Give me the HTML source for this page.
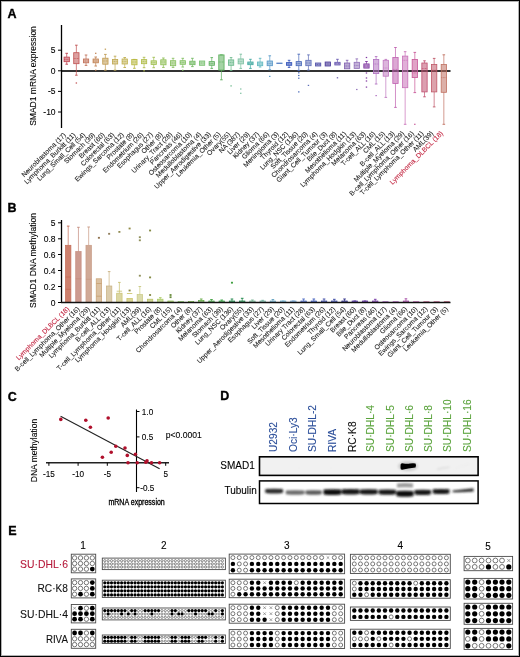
<!DOCTYPE html>
<html><head><meta charset="utf-8"><title>SMAD1 figure</title>
<style>
html,body{margin:0;padding:0;background:#fff;}
#fig{position:relative;width:520px;height:657px;overflow:hidden;background:#fff;}
svg{display:block;will-change:transform;filter:blur(0.3px);}
svg text{font-family:"Liberation Sans", sans-serif;}
#frame{position:absolute;left:0;top:0;width:520px;height:657px;box-sizing:border-box;border:1px solid #000;box-shadow:inset 0 0 0 1px rgba(0,0,0,0.3);pointer-events:none;}
</style></head>
<body>
<div id="fig">
<svg width="520" height="657" viewBox="0 0 520 657" font-family='"Liberation Sans", sans-serif'>
<line x1="61" y1="71.0" x2="450.5" y2="71.0" stroke="#333" stroke-width="1.9"/>
<g id="panelA">
<line x1="66.70" y1="53.3" x2="66.70" y2="57.1" stroke="#c0404c" stroke-width="0.7"/>
<line x1="65.40" y1="53.3" x2="68.00" y2="53.3" stroke="#c0404c" stroke-width="0.9"/>
<line x1="66.70" y1="61.7" x2="66.70" y2="64.2" stroke="#c0404c" stroke-width="0.7"/>
<line x1="65.40" y1="64.2" x2="68.00" y2="64.2" stroke="#c0404c" stroke-width="0.9"/>
<rect x="64.05" y="57.1" width="5.3" height="4.60" fill="#c0404c" fill-opacity="0.55" stroke="#c0404c" stroke-width="0.8"/>
<line x1="64.05" y1="59.4" x2="69.35" y2="59.4" stroke="#c0404c" stroke-width="0.7" stroke-dasharray="1,0.6"/>
<line x1="76.37" y1="45.2" x2="76.37" y2="52.7" stroke="#c05050" stroke-width="0.7"/>
<line x1="75.07" y1="45.2" x2="77.67" y2="45.2" stroke="#c05050" stroke-width="0.9"/>
<line x1="76.37" y1="63.7" x2="76.37" y2="75.2" stroke="#c05050" stroke-width="0.7"/>
<line x1="75.07" y1="75.2" x2="77.67" y2="75.2" stroke="#c05050" stroke-width="0.9"/>
<rect x="73.72" y="52.7" width="5.3" height="11.00" fill="#c05050" fill-opacity="0.55" stroke="#c05050" stroke-width="0.8"/>
<line x1="73.72" y1="58.5" x2="79.02" y2="58.5" stroke="#c05050" stroke-width="0.7" stroke-dasharray="1,0.6"/>
<rect x="75.67" y="82.4" width="1.4" height="1.2" fill="#c05050"/>
<line x1="86.04" y1="55.0" x2="86.04" y2="59.0" stroke="#c07058" stroke-width="0.7"/>
<line x1="84.74" y1="55.0" x2="87.34" y2="55.0" stroke="#c07058" stroke-width="0.9"/>
<line x1="86.04" y1="62.8" x2="86.04" y2="65.4" stroke="#c07058" stroke-width="0.7"/>
<line x1="84.74" y1="65.4" x2="87.34" y2="65.4" stroke="#c07058" stroke-width="0.9"/>
<rect x="83.39" y="59.0" width="5.3" height="3.80" fill="#c07058" fill-opacity="0.55" stroke="#c07058" stroke-width="0.8"/>
<line x1="83.39" y1="61.0" x2="88.69" y2="61.0" stroke="#c07058" stroke-width="0.7" stroke-dasharray="1,0.6"/>
<line x1="95.71" y1="57.0" x2="95.71" y2="59.0" stroke="#c08050" stroke-width="0.7"/>
<line x1="94.41" y1="57.0" x2="97.01" y2="57.0" stroke="#c08050" stroke-width="0.9"/>
<line x1="95.71" y1="62.8" x2="95.71" y2="66.0" stroke="#c08050" stroke-width="0.7"/>
<line x1="94.41" y1="66.0" x2="97.01" y2="66.0" stroke="#c08050" stroke-width="0.9"/>
<rect x="93.06" y="59.0" width="5.3" height="3.80" fill="#c08050" fill-opacity="0.55" stroke="#c08050" stroke-width="0.8"/>
<line x1="93.06" y1="61.0" x2="98.36" y2="61.0" stroke="#c08050" stroke-width="0.7" stroke-dasharray="1,0.6"/>
<rect x="95.01" y="52.699999999999996" width="1.4" height="1.2" fill="#c08050"/>
<rect x="95.01" y="69.60000000000001" width="1.4" height="1.2" fill="#c08050"/>
<line x1="105.38" y1="54.4" x2="105.38" y2="58.2" stroke="#c09a50" stroke-width="0.7"/>
<line x1="104.08" y1="54.4" x2="106.68" y2="54.4" stroke="#c09a50" stroke-width="0.9"/>
<line x1="105.38" y1="64.2" x2="105.38" y2="70.2" stroke="#c09a50" stroke-width="0.7"/>
<line x1="104.08" y1="70.2" x2="106.68" y2="70.2" stroke="#c09a50" stroke-width="0.9"/>
<rect x="102.73" y="58.2" width="5.3" height="6.00" fill="#c09a50" fill-opacity="0.55" stroke="#c09a50" stroke-width="0.8"/>
<line x1="102.73" y1="61.0" x2="108.03" y2="61.0" stroke="#c09a50" stroke-width="0.7" stroke-dasharray="1,0.6"/>
<rect x="104.68" y="48.6" width="1.4" height="1.2" fill="#c09a50"/>
<line x1="115.05" y1="56.2" x2="115.05" y2="59.4" stroke="#c0a850" stroke-width="0.7"/>
<line x1="113.75" y1="56.2" x2="116.35" y2="56.2" stroke="#c0a850" stroke-width="0.9"/>
<line x1="115.05" y1="64.0" x2="115.05" y2="70.2" stroke="#c0a850" stroke-width="0.7"/>
<line x1="113.75" y1="70.2" x2="116.35" y2="70.2" stroke="#c0a850" stroke-width="0.9"/>
<rect x="112.40" y="59.4" width="5.3" height="4.60" fill="#c0a850" fill-opacity="0.55" stroke="#c0a850" stroke-width="0.8"/>
<line x1="112.40" y1="61.5" x2="117.70" y2="61.5" stroke="#c0a850" stroke-width="0.7" stroke-dasharray="1,0.6"/>
<line x1="124.72" y1="57.5" x2="124.72" y2="59.0" stroke="#c0b050" stroke-width="0.7"/>
<line x1="123.42" y1="57.5" x2="126.02" y2="57.5" stroke="#c0b050" stroke-width="0.9"/>
<line x1="124.72" y1="64.0" x2="124.72" y2="67.5" stroke="#c0b050" stroke-width="0.7"/>
<line x1="123.42" y1="67.5" x2="126.02" y2="67.5" stroke="#c0b050" stroke-width="0.9"/>
<rect x="122.07" y="59.0" width="5.3" height="5.00" fill="#c0b050" fill-opacity="0.55" stroke="#c0b050" stroke-width="0.8"/>
<line x1="122.07" y1="61.5" x2="127.37" y2="61.5" stroke="#c0b050" stroke-width="0.7" stroke-dasharray="1,0.6"/>
<line x1="134.39" y1="59.4" x2="134.39" y2="59.4" stroke="#b8b840" stroke-width="0.7"/>
<line x1="133.09" y1="59.4" x2="135.69" y2="59.4" stroke="#b8b840" stroke-width="0.9"/>
<line x1="134.39" y1="64.8" x2="134.39" y2="68.3" stroke="#b8b840" stroke-width="0.7"/>
<line x1="133.09" y1="68.3" x2="135.69" y2="68.3" stroke="#b8b840" stroke-width="0.9"/>
<rect x="131.74" y="59.4" width="5.3" height="5.40" fill="#b8b840" fill-opacity="0.55" stroke="#b8b840" stroke-width="0.8"/>
<line x1="131.74" y1="62.0" x2="137.04" y2="62.0" stroke="#b8b840" stroke-width="0.7" stroke-dasharray="1,0.6"/>
<line x1="144.06" y1="57.3" x2="144.06" y2="59.6" stroke="#b0bc48" stroke-width="0.7"/>
<line x1="142.76" y1="57.3" x2="145.36" y2="57.3" stroke="#b0bc48" stroke-width="0.9"/>
<line x1="144.06" y1="63.7" x2="144.06" y2="67.7" stroke="#b0bc48" stroke-width="0.7"/>
<line x1="142.76" y1="67.7" x2="145.36" y2="67.7" stroke="#b0bc48" stroke-width="0.9"/>
<rect x="141.41" y="59.6" width="5.3" height="4.10" fill="#b0bc48" fill-opacity="0.55" stroke="#b0bc48" stroke-width="0.8"/>
<line x1="141.41" y1="61.5" x2="146.71" y2="61.5" stroke="#b0bc48" stroke-width="0.7" stroke-dasharray="1,0.6"/>
<rect x="143.36" y="70.2" width="1.4" height="1.2" fill="#b0bc48"/>
<line x1="153.73" y1="57.3" x2="153.73" y2="60.8" stroke="#a0c050" stroke-width="0.7"/>
<line x1="152.43" y1="57.3" x2="155.03" y2="57.3" stroke="#a0c050" stroke-width="0.9"/>
<line x1="153.73" y1="64.5" x2="153.73" y2="67.7" stroke="#a0c050" stroke-width="0.7"/>
<line x1="152.43" y1="67.7" x2="155.03" y2="67.7" stroke="#a0c050" stroke-width="0.9"/>
<rect x="151.08" y="60.8" width="5.3" height="3.70" fill="#a0c050" fill-opacity="0.55" stroke="#a0c050" stroke-width="0.8"/>
<line x1="151.08" y1="62.5" x2="156.38" y2="62.5" stroke="#a0c050" stroke-width="0.7" stroke-dasharray="1,0.6"/>
<line x1="163.40" y1="58.0" x2="163.40" y2="59.8" stroke="#90c058" stroke-width="0.7"/>
<line x1="162.10" y1="58.0" x2="164.70" y2="58.0" stroke="#90c058" stroke-width="0.9"/>
<line x1="163.40" y1="64.8" x2="163.40" y2="67.4" stroke="#90c058" stroke-width="0.7"/>
<line x1="162.10" y1="67.4" x2="164.70" y2="67.4" stroke="#90c058" stroke-width="0.9"/>
<rect x="160.75" y="59.8" width="5.3" height="5.00" fill="#90c058" fill-opacity="0.55" stroke="#90c058" stroke-width="0.8"/>
<line x1="160.75" y1="62.0" x2="166.05" y2="62.0" stroke="#90c058" stroke-width="0.7" stroke-dasharray="1,0.6"/>
<line x1="173.07" y1="58.3" x2="173.07" y2="60.7" stroke="#88c060" stroke-width="0.7"/>
<line x1="171.77" y1="58.3" x2="174.37" y2="58.3" stroke="#88c060" stroke-width="0.9"/>
<line x1="173.07" y1="65.7" x2="173.07" y2="67.4" stroke="#88c060" stroke-width="0.7"/>
<line x1="171.77" y1="67.4" x2="174.37" y2="67.4" stroke="#88c060" stroke-width="0.9"/>
<rect x="170.42" y="60.7" width="5.3" height="5.00" fill="#88c060" fill-opacity="0.55" stroke="#88c060" stroke-width="0.8"/>
<line x1="170.42" y1="63.0" x2="175.72" y2="63.0" stroke="#88c060" stroke-width="0.7" stroke-dasharray="1,0.6"/>
<line x1="182.74" y1="58.3" x2="182.74" y2="60.7" stroke="#80c060" stroke-width="0.7"/>
<line x1="181.44" y1="58.3" x2="184.04" y2="58.3" stroke="#80c060" stroke-width="0.9"/>
<line x1="182.74" y1="64.3" x2="182.74" y2="67.0" stroke="#80c060" stroke-width="0.7"/>
<line x1="181.44" y1="67.0" x2="184.04" y2="67.0" stroke="#80c060" stroke-width="0.9"/>
<rect x="180.09" y="60.7" width="5.3" height="3.60" fill="#80c060" fill-opacity="0.55" stroke="#80c060" stroke-width="0.8"/>
<line x1="180.09" y1="62.5" x2="185.39" y2="62.5" stroke="#80c060" stroke-width="0.7" stroke-dasharray="1,0.6"/>
<rect x="182.04" y="69.60000000000001" width="1.4" height="1.2" fill="#80c060"/>
<line x1="192.41" y1="58.3" x2="192.41" y2="61.2" stroke="#70b860" stroke-width="0.7"/>
<line x1="191.11" y1="58.3" x2="193.71" y2="58.3" stroke="#70b860" stroke-width="0.9"/>
<line x1="192.41" y1="64.7" x2="192.41" y2="66.6" stroke="#70b860" stroke-width="0.7"/>
<line x1="191.11" y1="66.6" x2="193.71" y2="66.6" stroke="#70b860" stroke-width="0.9"/>
<rect x="189.76" y="61.2" width="5.3" height="3.50" fill="#70b860" fill-opacity="0.55" stroke="#70b860" stroke-width="0.8"/>
<line x1="189.76" y1="63.0" x2="195.06" y2="63.0" stroke="#70b860" stroke-width="0.7" stroke-dasharray="1,0.6"/>
<rect x="199.43" y="61.0" width="5.3" height="4.30" fill="#78c070" fill-opacity="0.55" stroke="#78c070" stroke-width="0.8"/>
<line x1="199.43" y1="63.0" x2="204.73" y2="63.0" stroke="#78c070" stroke-width="0.7" stroke-dasharray="1,0.6"/>
<line x1="211.75" y1="57.6" x2="211.75" y2="61.6" stroke="#60b060" stroke-width="0.7"/>
<line x1="210.45" y1="57.6" x2="213.05" y2="57.6" stroke="#60b060" stroke-width="0.9"/>
<line x1="211.75" y1="65.3" x2="211.75" y2="68.4" stroke="#60b060" stroke-width="0.7"/>
<line x1="210.45" y1="68.4" x2="213.05" y2="68.4" stroke="#60b060" stroke-width="0.9"/>
<rect x="209.10" y="61.6" width="5.3" height="3.70" fill="#60b060" fill-opacity="0.55" stroke="#60b060" stroke-width="0.8"/>
<line x1="209.10" y1="63.5" x2="214.40" y2="63.5" stroke="#60b060" stroke-width="0.7" stroke-dasharray="1,0.6"/>
<line x1="221.42" y1="54.9" x2="221.42" y2="54.9" stroke="#5aae5a" stroke-width="0.7"/>
<line x1="220.12" y1="54.9" x2="222.72" y2="54.9" stroke="#5aae5a" stroke-width="0.9"/>
<line x1="221.42" y1="70.1" x2="221.42" y2="79.8" stroke="#5aae5a" stroke-width="0.7"/>
<line x1="220.12" y1="79.8" x2="222.72" y2="79.8" stroke="#5aae5a" stroke-width="0.9"/>
<rect x="218.77" y="54.9" width="5.3" height="15.20" fill="#5aae5a" fill-opacity="0.55" stroke="#5aae5a" stroke-width="0.8"/>
<line x1="218.77" y1="62.0" x2="224.07" y2="62.0" stroke="#5aae5a" stroke-width="0.7" stroke-dasharray="1,0.6"/>
<line x1="231.09" y1="57.6" x2="231.09" y2="59.9" stroke="#6ab88a" stroke-width="0.7"/>
<line x1="229.79" y1="57.6" x2="232.39" y2="57.6" stroke="#6ab88a" stroke-width="0.9"/>
<line x1="231.09" y1="65.3" x2="231.09" y2="70.4" stroke="#6ab88a" stroke-width="0.7"/>
<line x1="229.79" y1="70.4" x2="232.39" y2="70.4" stroke="#6ab88a" stroke-width="0.9"/>
<rect x="228.44" y="59.9" width="5.3" height="5.40" fill="#6ab88a" fill-opacity="0.55" stroke="#6ab88a" stroke-width="0.8"/>
<line x1="228.44" y1="62.5" x2="233.74" y2="62.5" stroke="#6ab88a" stroke-width="0.7" stroke-dasharray="1,0.6"/>
<rect x="230.39" y="85.30000000000001" width="1.4" height="1.2" fill="#6ab88a"/>
<line x1="240.76" y1="54.2" x2="240.76" y2="58.9" stroke="#7cc0a0" stroke-width="0.7"/>
<line x1="239.46" y1="54.2" x2="242.06" y2="54.2" stroke="#7cc0a0" stroke-width="0.9"/>
<line x1="240.76" y1="63.9" x2="240.76" y2="68.4" stroke="#7cc0a0" stroke-width="0.7"/>
<line x1="239.46" y1="68.4" x2="242.06" y2="68.4" stroke="#7cc0a0" stroke-width="0.9"/>
<rect x="238.11" y="58.9" width="5.3" height="5.00" fill="#7cc0a0" fill-opacity="0.55" stroke="#7cc0a0" stroke-width="0.8"/>
<line x1="238.11" y1="61.5" x2="243.41" y2="61.5" stroke="#7cc0a0" stroke-width="0.7" stroke-dasharray="1,0.6"/>
<rect x="240.06" y="88.4" width="1.4" height="1.2" fill="#7cc0a0"/>
<rect x="240.06" y="92.7" width="1.4" height="1.2" fill="#7cc0a0"/>
<line x1="250.43" y1="59.3" x2="250.43" y2="62.0" stroke="#40a8a0" stroke-width="0.7"/>
<line x1="249.13" y1="59.3" x2="251.73" y2="59.3" stroke="#40a8a0" stroke-width="0.9"/>
<line x1="250.43" y1="64.7" x2="250.43" y2="68.4" stroke="#40a8a0" stroke-width="0.7"/>
<line x1="249.13" y1="68.4" x2="251.73" y2="68.4" stroke="#40a8a0" stroke-width="0.9"/>
<rect x="247.78" y="62.0" width="5.3" height="2.70" fill="#40a8a0" fill-opacity="0.55" stroke="#40a8a0" stroke-width="0.8"/>
<line x1="247.78" y1="63.4" x2="253.08" y2="63.4" stroke="#40a8a0" stroke-width="0.7" stroke-dasharray="1,0.6"/>
<line x1="260.10" y1="58.3" x2="260.10" y2="62.0" stroke="#60b8c0" stroke-width="0.7"/>
<line x1="258.80" y1="58.3" x2="261.40" y2="58.3" stroke="#60b8c0" stroke-width="0.9"/>
<line x1="260.10" y1="65.7" x2="260.10" y2="67.0" stroke="#60b8c0" stroke-width="0.7"/>
<line x1="258.80" y1="67.0" x2="261.40" y2="67.0" stroke="#60b8c0" stroke-width="0.9"/>
<rect x="257.45" y="62.0" width="5.3" height="3.70" fill="#60b8c0" fill-opacity="0.55" stroke="#60b8c0" stroke-width="0.8"/>
<line x1="257.45" y1="64.0" x2="262.75" y2="64.0" stroke="#60b8c0" stroke-width="0.7" stroke-dasharray="1,0.6"/>
<line x1="269.77" y1="55.8" x2="269.77" y2="61.0" stroke="#5898c8" stroke-width="0.7"/>
<line x1="268.47" y1="55.8" x2="271.07" y2="55.8" stroke="#5898c8" stroke-width="0.9"/>
<line x1="269.77" y1="65.7" x2="269.77" y2="69.7" stroke="#5898c8" stroke-width="0.7"/>
<line x1="268.47" y1="69.7" x2="271.07" y2="69.7" stroke="#5898c8" stroke-width="0.9"/>
<rect x="267.12" y="61.0" width="5.3" height="4.70" fill="#5898c8" fill-opacity="0.55" stroke="#5898c8" stroke-width="0.8"/>
<line x1="267.12" y1="63.5" x2="272.42" y2="63.5" stroke="#5898c8" stroke-width="0.7" stroke-dasharray="1,0.6"/>
<rect x="269.07" y="75.80000000000001" width="1.4" height="1.2" fill="#5898c8"/>
<rect x="276.79" y="63.0" width="5.3" height="0.60" fill="#6088c8" fill-opacity="0.55" stroke="#6088c8" stroke-width="0.8"/>
<line x1="289.11" y1="60.3" x2="289.11" y2="62.6" stroke="#3050b8" stroke-width="0.7"/>
<line x1="287.81" y1="60.3" x2="290.41" y2="60.3" stroke="#3050b8" stroke-width="0.9"/>
<line x1="289.11" y1="65.3" x2="289.11" y2="67.4" stroke="#3050b8" stroke-width="0.7"/>
<line x1="287.81" y1="67.4" x2="290.41" y2="67.4" stroke="#3050b8" stroke-width="0.9"/>
<rect x="286.46" y="62.6" width="5.3" height="2.70" fill="#3050b8" fill-opacity="0.55" stroke="#3050b8" stroke-width="0.8"/>
<line x1="286.46" y1="64.0" x2="291.76" y2="64.0" stroke="#3050b8" stroke-width="0.7" stroke-dasharray="1,0.6"/>
<line x1="298.78" y1="54.2" x2="298.78" y2="61.6" stroke="#4868b8" stroke-width="0.7"/>
<line x1="297.48" y1="54.2" x2="300.08" y2="54.2" stroke="#4868b8" stroke-width="0.9"/>
<line x1="298.78" y1="65.7" x2="298.78" y2="70.4" stroke="#4868b8" stroke-width="0.7"/>
<line x1="297.48" y1="70.4" x2="300.08" y2="70.4" stroke="#4868b8" stroke-width="0.9"/>
<rect x="296.13" y="61.6" width="5.3" height="4.10" fill="#4868b8" fill-opacity="0.55" stroke="#4868b8" stroke-width="0.8"/>
<line x1="296.13" y1="63.5" x2="301.43" y2="63.5" stroke="#4868b8" stroke-width="0.7" stroke-dasharray="1,0.6"/>
<rect x="298.08" y="72.2" width="1.4" height="1.2" fill="#4868b8"/>
<rect x="298.08" y="74.9" width="1.4" height="1.2" fill="#4868b8"/>
<rect x="298.08" y="77.60000000000001" width="1.4" height="1.2" fill="#4868b8"/>
<rect x="298.08" y="91.30000000000001" width="1.4" height="1.2" fill="#4868b8"/>
<line x1="308.45" y1="54.9" x2="308.45" y2="60.3" stroke="#6070b8" stroke-width="0.7"/>
<line x1="307.15" y1="54.9" x2="309.75" y2="54.9" stroke="#6070b8" stroke-width="0.9"/>
<line x1="308.45" y1="65.7" x2="308.45" y2="70.1" stroke="#6070b8" stroke-width="0.7"/>
<line x1="307.15" y1="70.1" x2="309.75" y2="70.1" stroke="#6070b8" stroke-width="0.9"/>
<rect x="305.80" y="60.3" width="5.3" height="5.40" fill="#6070b8" fill-opacity="0.55" stroke="#6070b8" stroke-width="0.8"/>
<line x1="305.80" y1="63.0" x2="311.10" y2="63.0" stroke="#6070b8" stroke-width="0.7" stroke-dasharray="1,0.6"/>
<rect x="307.75" y="84.80000000000001" width="1.4" height="1.2" fill="#6070b8"/>
<rect x="315.47" y="63.0" width="5.3" height="3.00" fill="#5050a8" fill-opacity="0.55" stroke="#5050a8" stroke-width="0.8"/>
<line x1="315.47" y1="64.5" x2="320.77" y2="64.5" stroke="#5050a8" stroke-width="0.7" stroke-dasharray="1,0.6"/>
<rect x="325.14" y="62.0" width="5.3" height="4.00" fill="#483898" fill-opacity="0.55" stroke="#483898" stroke-width="0.8"/>
<line x1="325.14" y1="64.0" x2="330.44" y2="64.0" stroke="#483898" stroke-width="0.7" stroke-dasharray="1,0.6"/>
<line x1="337.46" y1="59.3" x2="337.46" y2="62.3" stroke="#6858b0" stroke-width="0.7"/>
<line x1="336.16" y1="59.3" x2="338.76" y2="59.3" stroke="#6858b0" stroke-width="0.9"/>
<rect x="334.81" y="62.3" width="5.3" height="2.70" fill="#6858b0" fill-opacity="0.55" stroke="#6858b0" stroke-width="0.8"/>
<line x1="334.81" y1="63.6" x2="340.11" y2="63.6" stroke="#6858b0" stroke-width="0.7" stroke-dasharray="1,0.6"/>
<rect x="336.76" y="77.2" width="1.4" height="1.2" fill="#6858b0"/>
<line x1="347.13" y1="60.3" x2="347.13" y2="63.0" stroke="#8060b0" stroke-width="0.7"/>
<line x1="345.83" y1="60.3" x2="348.43" y2="60.3" stroke="#8060b0" stroke-width="0.9"/>
<rect x="344.48" y="63.0" width="5.3" height="5.80" fill="#8060b0" fill-opacity="0.55" stroke="#8060b0" stroke-width="0.8"/>
<line x1="344.48" y1="66.0" x2="349.78" y2="66.0" stroke="#8060b0" stroke-width="0.7" stroke-dasharray="1,0.6"/>
<line x1="356.80" y1="58.9" x2="356.80" y2="62.3" stroke="#9070b8" stroke-width="0.7"/>
<line x1="355.50" y1="58.9" x2="358.10" y2="58.9" stroke="#9070b8" stroke-width="0.9"/>
<rect x="354.15" y="62.3" width="5.3" height="6.10" fill="#9070b8" fill-opacity="0.55" stroke="#9070b8" stroke-width="0.8"/>
<line x1="354.15" y1="65.5" x2="359.45" y2="65.5" stroke="#9070b8" stroke-width="0.7" stroke-dasharray="1,0.6"/>
<rect x="356.10" y="88.9" width="1.4" height="1.2" fill="#9070b8"/>
<line x1="366.47" y1="61.5" x2="366.47" y2="63.9" stroke="#8038a0" stroke-width="0.7"/>
<line x1="365.17" y1="61.5" x2="367.77" y2="61.5" stroke="#8038a0" stroke-width="0.9"/>
<rect x="363.82" y="63.9" width="5.3" height="4.20" fill="#8038a0" fill-opacity="0.55" stroke="#8038a0" stroke-width="0.8"/>
<line x1="363.82" y1="66.0" x2="369.12" y2="66.0" stroke="#8038a0" stroke-width="0.7" stroke-dasharray="1,0.6"/>
<rect x="365.77" y="56.9" width="1.4" height="1.2" fill="#8038a0"/>
<rect x="365.77" y="72.4" width="1.4" height="1.2" fill="#8038a0"/>
<rect x="365.77" y="77.4" width="1.4" height="1.2" fill="#8038a0"/>
<rect x="365.77" y="80.4" width="1.4" height="1.2" fill="#8038a0"/>
<rect x="365.77" y="86.5" width="1.4" height="1.2" fill="#8038a0"/>
<line x1="376.14" y1="56.6" x2="376.14" y2="59.4" stroke="#b070c0" stroke-width="0.7"/>
<line x1="374.84" y1="56.6" x2="377.44" y2="56.6" stroke="#b070c0" stroke-width="0.9"/>
<line x1="376.14" y1="73.6" x2="376.14" y2="84.0" stroke="#b070c0" stroke-width="0.7"/>
<line x1="374.84" y1="84.0" x2="377.44" y2="84.0" stroke="#b070c0" stroke-width="0.9"/>
<rect x="373.49" y="59.4" width="5.3" height="14.20" fill="#b070c0" fill-opacity="0.55" stroke="#b070c0" stroke-width="0.8"/>
<line x1="373.49" y1="64.0" x2="378.79" y2="64.0" stroke="#b070c0" stroke-width="0.7" stroke-dasharray="1,0.6"/>
<rect x="375.44" y="95.0" width="1.4" height="1.2" fill="#b070c0"/>
<line x1="385.81" y1="59.4" x2="385.81" y2="60.3" stroke="#c078c0" stroke-width="0.7"/>
<line x1="384.51" y1="59.4" x2="387.11" y2="59.4" stroke="#c078c0" stroke-width="0.9"/>
<line x1="385.81" y1="76.2" x2="385.81" y2="97.4" stroke="#c078c0" stroke-width="0.7"/>
<line x1="384.51" y1="97.4" x2="387.11" y2="97.4" stroke="#c078c0" stroke-width="0.9"/>
<rect x="383.16" y="60.3" width="5.3" height="15.90" fill="#c078c0" fill-opacity="0.55" stroke="#c078c0" stroke-width="0.8"/>
<line x1="383.16" y1="68.0" x2="388.46" y2="68.0" stroke="#c078c0" stroke-width="0.7" stroke-dasharray="1,0.6"/>
<line x1="395.48" y1="47.5" x2="395.48" y2="57.5" stroke="#c060b0" stroke-width="0.7"/>
<line x1="394.18" y1="47.5" x2="396.78" y2="47.5" stroke="#c060b0" stroke-width="0.9"/>
<line x1="395.48" y1="83.5" x2="395.48" y2="107.4" stroke="#c060b0" stroke-width="0.7"/>
<line x1="394.18" y1="107.4" x2="396.78" y2="107.4" stroke="#c060b0" stroke-width="0.9"/>
<rect x="392.83" y="57.5" width="5.3" height="26.00" fill="#c060b0" fill-opacity="0.55" stroke="#c060b0" stroke-width="0.8"/>
<line x1="392.83" y1="69.4" x2="398.13" y2="69.4" stroke="#c060b0" stroke-width="0.7" stroke-dasharray="1,0.6"/>
<line x1="405.15" y1="51.7" x2="405.15" y2="56.1" stroke="#c870b8" stroke-width="0.7"/>
<line x1="403.85" y1="51.7" x2="406.45" y2="51.7" stroke="#c870b8" stroke-width="0.9"/>
<line x1="405.15" y1="87.7" x2="405.15" y2="124.3" stroke="#c870b8" stroke-width="0.7"/>
<line x1="403.85" y1="124.3" x2="406.45" y2="124.3" stroke="#c870b8" stroke-width="0.9"/>
<rect x="402.50" y="56.1" width="5.3" height="31.60" fill="#c870b8" fill-opacity="0.55" stroke="#c870b8" stroke-width="0.8"/>
<line x1="402.50" y1="60.3" x2="407.80" y2="60.3" stroke="#c870b8" stroke-width="0.7" stroke-dasharray="1,0.6"/>
<line x1="414.82" y1="52.4" x2="414.82" y2="59.4" stroke="#c85898" stroke-width="0.7"/>
<line x1="413.52" y1="52.4" x2="416.12" y2="52.4" stroke="#c85898" stroke-width="0.9"/>
<line x1="414.82" y1="77.6" x2="414.82" y2="92.6" stroke="#c85898" stroke-width="0.7"/>
<line x1="413.52" y1="92.6" x2="416.12" y2="92.6" stroke="#c85898" stroke-width="0.9"/>
<rect x="412.17" y="59.4" width="5.3" height="18.20" fill="#c85898" fill-opacity="0.55" stroke="#c85898" stroke-width="0.8"/>
<line x1="412.17" y1="73.0" x2="417.47" y2="73.0" stroke="#c85898" stroke-width="0.7" stroke-dasharray="1,0.6"/>
<rect x="414.12" y="123.7" width="1.4" height="1.2" fill="#c85898"/>
<line x1="424.49" y1="60.8" x2="424.49" y2="63.0" stroke="#c05070" stroke-width="0.7"/>
<line x1="423.19" y1="60.8" x2="425.79" y2="60.8" stroke="#c05070" stroke-width="0.9"/>
<line x1="424.49" y1="91.9" x2="424.49" y2="96.8" stroke="#c05070" stroke-width="0.7"/>
<line x1="423.19" y1="96.8" x2="425.79" y2="96.8" stroke="#c05070" stroke-width="0.9"/>
<rect x="421.84" y="63.0" width="5.3" height="28.90" fill="#c05070" fill-opacity="0.55" stroke="#c05070" stroke-width="0.8"/>
<line x1="421.84" y1="68.5" x2="427.14" y2="68.5" stroke="#c05070" stroke-width="0.7" stroke-dasharray="1,0.6"/>
<line x1="434.16" y1="58.4" x2="434.16" y2="64.5" stroke="#c05868" stroke-width="0.7"/>
<line x1="432.86" y1="58.4" x2="435.46" y2="58.4" stroke="#c05868" stroke-width="0.9"/>
<line x1="434.16" y1="91.9" x2="434.16" y2="106.9" stroke="#c05868" stroke-width="0.7"/>
<line x1="432.86" y1="106.9" x2="435.46" y2="106.9" stroke="#c05868" stroke-width="0.9"/>
<rect x="431.51" y="64.5" width="5.3" height="27.40" fill="#c05868" fill-opacity="0.55" stroke="#c05868" stroke-width="0.8"/>
<line x1="431.51" y1="70.3" x2="436.81" y2="70.3" stroke="#c05868" stroke-width="0.7" stroke-dasharray="1,0.6"/>
<line x1="443.83" y1="54.8" x2="443.83" y2="64.5" stroke="#c07060" stroke-width="0.7"/>
<line x1="442.53" y1="54.8" x2="445.13" y2="54.8" stroke="#c07060" stroke-width="0.9"/>
<line x1="443.83" y1="92.3" x2="443.83" y2="124.3" stroke="#c07060" stroke-width="0.7"/>
<line x1="442.53" y1="124.3" x2="445.13" y2="124.3" stroke="#c07060" stroke-width="0.9"/>
<rect x="441.18" y="64.5" width="5.3" height="27.80" fill="#c07060" fill-opacity="0.55" stroke="#c07060" stroke-width="0.8"/>
<line x1="441.18" y1="77.6" x2="446.48" y2="77.6" stroke="#c07060" stroke-width="0.7" stroke-dasharray="1,0.6"/>
</g>
<line x1="61.5" y1="25" x2="61.5" y2="128" stroke="#000" stroke-width="1.3"/>
<line x1="58" y1="50.2" x2="61.5" y2="50.2" stroke="#000" stroke-width="1"/>
<text stroke="#000" stroke-width="0.1" x="55.6" y="53.2" font-size="8.5" text-anchor="end">5</text>
<line x1="58" y1="70.8" x2="61.5" y2="70.8" stroke="#000" stroke-width="1"/>
<text stroke="#000" stroke-width="0.1" x="55.6" y="73.8" font-size="8.5" text-anchor="end">0</text>
<line x1="58" y1="91.4" x2="61.5" y2="91.4" stroke="#000" stroke-width="1"/>
<text stroke="#000" stroke-width="0.1" x="55.6" y="94.4" font-size="8.5" text-anchor="end">-5</text>
<line x1="58" y1="112" x2="61.5" y2="112" stroke="#000" stroke-width="1"/>
<text stroke="#000" stroke-width="0.1" x="55.6" y="115.0" font-size="8.5" text-anchor="end">-10</text>
<text stroke="#000" stroke-width="0.1" transform="translate(35.8,76) rotate(-90)" font-size="8.5" text-anchor="middle">SMAD1 mRNA expression</text>
<text stroke="#1a1a1a" stroke-width="0.08" transform="translate(66.40,135.40) rotate(-45)" font-size="6.75" text-anchor="end" fill="#1a1a1a">Neuroblastoma (17)</text>
<text stroke="#1a1a1a" stroke-width="0.08" transform="translate(76.07,135.36) rotate(-45)" font-size="6.75" text-anchor="end" fill="#1a1a1a">Lymphoma_Burkitt (11)</text>
<text stroke="#1a1a1a" stroke-width="0.08" transform="translate(85.74,135.32) rotate(-45)" font-size="6.75" text-anchor="end" fill="#1a1a1a">Lung_Small_Cell (54)</text>
<text stroke="#1a1a1a" stroke-width="0.08" transform="translate(95.41,135.28) rotate(-45)" font-size="6.75" text-anchor="end" fill="#1a1a1a">Stomach (39)</text>
<text stroke="#1a1a1a" stroke-width="0.08" transform="translate(105.08,135.24) rotate(-45)" font-size="6.75" text-anchor="end" fill="#1a1a1a">Breast (60)</text>
<text stroke="#1a1a1a" stroke-width="0.08" transform="translate(114.75,135.19) rotate(-45)" font-size="6.75" text-anchor="end" fill="#1a1a1a">Colorectal (63)</text>
<text stroke="#1a1a1a" stroke-width="0.08" transform="translate(124.42,135.15) rotate(-45)" font-size="6.75" text-anchor="end" fill="#1a1a1a">Ewings_Sarcoma (12)</text>
<text stroke="#1a1a1a" stroke-width="0.08" transform="translate(134.09,135.11) rotate(-45)" font-size="6.75" text-anchor="end" fill="#1a1a1a">Prostate (8)</text>
<text stroke="#1a1a1a" stroke-width="0.08" transform="translate(143.76,135.07) rotate(-45)" font-size="6.75" text-anchor="end" fill="#1a1a1a">Endometrium (26)</text>
<text stroke="#1a1a1a" stroke-width="0.08" transform="translate(153.43,135.03) rotate(-45)" font-size="6.75" text-anchor="end" fill="#1a1a1a">Esophagus (27)</text>
<text stroke="#1a1a1a" stroke-width="0.08" transform="translate(163.10,134.99) rotate(-45)" font-size="6.75" text-anchor="end" fill="#1a1a1a">Other (8)</text>
<text stroke="#1a1a1a" stroke-width="0.08" transform="translate(172.77,134.95) rotate(-45)" font-size="6.75" text-anchor="end" fill="#1a1a1a">Urinary_Tract (28)</text>
<text stroke="#1a1a1a" stroke-width="0.08" transform="translate(182.44,134.91) rotate(-45)" font-size="6.75" text-anchor="end" fill="#1a1a1a">Pancreas (46)</text>
<text stroke="#1a1a1a" stroke-width="0.08" transform="translate(192.11,134.87) rotate(-45)" font-size="6.75" text-anchor="end" fill="#1a1a1a">Osteosarcoma (10)</text>
<text stroke="#1a1a1a" stroke-width="0.08" transform="translate(201.78,134.83) rotate(-45)" font-size="6.75" text-anchor="end" fill="#1a1a1a">Medulloblastoma (4)</text>
<text stroke="#1a1a1a" stroke-width="0.08" transform="translate(211.45,134.78) rotate(-45)" font-size="6.75" text-anchor="end" fill="#1a1a1a">Upper_Aerodigestive (33)</text>
<text stroke="#1a1a1a" stroke-width="0.08" transform="translate(221.12,134.74) rotate(-45)" font-size="6.75" text-anchor="end" fill="#1a1a1a">Leukemia_Other (5)</text>
<text stroke="#1a1a1a" stroke-width="0.08" transform="translate(230.79,134.70) rotate(-45)" font-size="6.75" text-anchor="end" fill="#1a1a1a">Ovary(55)</text>
<text stroke="#1a1a1a" stroke-width="0.08" transform="translate(240.46,134.66) rotate(-45)" font-size="6.75" text-anchor="end" fill="#1a1a1a">NA (387)</text>
<text stroke="#1a1a1a" stroke-width="0.08" transform="translate(250.13,134.62) rotate(-45)" font-size="6.75" text-anchor="end" fill="#1a1a1a">Liver (29)</text>
<text stroke="#1a1a1a" stroke-width="0.08" transform="translate(259.80,134.58) rotate(-45)" font-size="6.75" text-anchor="end" fill="#1a1a1a">Kidney (37)</text>
<text stroke="#1a1a1a" stroke-width="0.08" transform="translate(269.47,134.54) rotate(-45)" font-size="6.75" text-anchor="end" fill="#1a1a1a">Glioma (66)</text>
<text stroke="#1a1a1a" stroke-width="0.08" transform="translate(279.14,134.50) rotate(-45)" font-size="6.75" text-anchor="end" fill="#1a1a1a">Meningioma (3)</text>
<text stroke="#1a1a1a" stroke-width="0.08" transform="translate(288.81,134.46) rotate(-45)" font-size="6.75" text-anchor="end" fill="#1a1a1a">Thyroid (12)</text>
<text stroke="#1a1a1a" stroke-width="0.08" transform="translate(298.48,134.42) rotate(-45)" font-size="6.75" text-anchor="end" fill="#1a1a1a">Lung_NSC (136)</text>
<text stroke="#1a1a1a" stroke-width="0.08" transform="translate(308.15,134.37) rotate(-45)" font-size="6.75" text-anchor="end" fill="#1a1a1a">Soft_Tissue (20)</text>
<text stroke="#1a1a1a" stroke-width="0.08" transform="translate(317.82,134.33) rotate(-45)" font-size="6.75" text-anchor="end" fill="#1a1a1a">Chondrosarcoma (4)</text>
<text stroke="#1a1a1a" stroke-width="0.08" transform="translate(327.49,134.29) rotate(-45)" font-size="6.75" text-anchor="end" fill="#1a1a1a">Giant_Cell_Tumour (3)</text>
<text stroke="#1a1a1a" stroke-width="0.08" transform="translate(337.16,134.25) rotate(-45)" font-size="6.75" text-anchor="end" fill="#1a1a1a">Bile_Duct (8)</text>
<text stroke="#1a1a1a" stroke-width="0.08" transform="translate(346.83,134.21) rotate(-45)" font-size="6.75" text-anchor="end" fill="#1a1a1a">Mesothelioma (11)</text>
<text stroke="#1a1a1a" stroke-width="0.08" transform="translate(356.50,134.17) rotate(-45)" font-size="6.75" text-anchor="end" fill="#1a1a1a">Lymphoma_Hodgkin (13)</text>
<text stroke="#1a1a1a" stroke-width="0.08" transform="translate(366.17,134.13) rotate(-45)" font-size="6.75" text-anchor="end" fill="#1a1a1a">Melanoma (63)</text>
<text stroke="#1a1a1a" stroke-width="0.08" transform="translate(375.84,134.09) rotate(-45)" font-size="6.75" text-anchor="end" fill="#1a1a1a">T-cell_ALL (16)</text>
<text stroke="#1a1a1a" stroke-width="0.08" transform="translate(385.51,134.05) rotate(-45)" font-size="6.75" text-anchor="end" fill="#1a1a1a">CML (15)</text>
<text stroke="#1a1a1a" stroke-width="0.08" transform="translate(395.18,134.01) rotate(-45)" font-size="6.75" text-anchor="end" fill="#1a1a1a">B-cell_ALL (13)</text>
<text stroke="#1a1a1a" stroke-width="0.08" transform="translate(404.85,133.96) rotate(-45)" font-size="6.75" text-anchor="end" fill="#1a1a1a">Multiple_Myeloma (29)</text>
<text stroke="#1a1a1a" stroke-width="0.08" transform="translate(414.52,133.92) rotate(-45)" font-size="6.75" text-anchor="end" fill="#1a1a1a">B-cell_Lymphoma_Other (16)</text>
<text stroke="#1a1a1a" stroke-width="0.08" transform="translate(424.19,133.88) rotate(-45)" font-size="6.75" text-anchor="end" fill="#1a1a1a">T-cell_Lymphoma_Other (11)</text>
<text stroke="#1a1a1a" stroke-width="0.08" transform="translate(433.86,133.84) rotate(-45)" font-size="6.75" text-anchor="end" fill="#1a1a1a">AML(39)</text>
<text stroke="#c0203c" stroke-width="0.08" transform="translate(443.53,133.80) rotate(-45)" font-size="6.75" text-anchor="end" fill="#c0203c">Lymphoma_DLBCL (18)</text>
<g id="panelB">
<line x1="68.20" y1="226.1" x2="68.20" y2="245.3" stroke="#c46a54" stroke-width="0.7"/>
<line x1="66.90" y1="226.1" x2="69.50" y2="226.1" stroke="#c46a54" stroke-width="0.9"/>
<rect x="65.50" y="245.3" width="5.4" height="57.20" fill="#c46a54" fill-opacity="0.85" stroke="#c46a54" stroke-width="0.7"/>
<line x1="65.50" y1="277" x2="70.90" y2="277" stroke="#c46a54" stroke-width="0.8"/>
<line x1="65.50" y1="289.3" x2="70.90" y2="289.3" stroke="#c46a54" stroke-width="0.8"/>
<line x1="78.44" y1="227.3" x2="78.44" y2="251.6" stroke="#c48a7c" stroke-width="0.7"/>
<line x1="77.14" y1="227.3" x2="79.73" y2="227.3" stroke="#c48a7c" stroke-width="0.9"/>
<rect x="75.73" y="251.6" width="5.4" height="50.90" fill="#c48a7c" fill-opacity="0.85" stroke="#c48a7c" stroke-width="0.7"/>
<line x1="75.73" y1="278.8" x2="81.14" y2="278.8" stroke="#c48a7c" stroke-width="0.8"/>
<line x1="88.67" y1="227.0" x2="88.67" y2="245.3" stroke="#c89a84" stroke-width="0.7"/>
<line x1="87.37" y1="227.0" x2="89.97" y2="227.0" stroke="#c89a84" stroke-width="0.9"/>
<rect x="85.97" y="245.3" width="5.4" height="57.20" fill="#c89a84" fill-opacity="0.85" stroke="#c89a84" stroke-width="0.7"/>
<line x1="85.97" y1="279.3" x2="91.37" y2="279.3" stroke="#c89a84" stroke-width="0.8"/>
<rect x="96.20" y="278.8" width="5.4" height="23.70" fill="#c8a070" fill-opacity="0.65" stroke="#c8a070" stroke-width="0.7"/>
<line x1="96.20" y1="283.5" x2="101.61" y2="283.5" stroke="#c8a070" stroke-width="0.8"/>
<line x1="96.20" y1="296.2" x2="101.61" y2="296.2" stroke="#c8a070" stroke-width="0.8"/>
<rect x="97.91" y="236.9" width="2.0" height="1.8" fill="#907350"/>
<line x1="109.14" y1="271.6" x2="109.14" y2="286.0" stroke="#c8b080" stroke-width="0.7"/>
<line x1="107.84" y1="271.6" x2="110.44" y2="271.6" stroke="#c8b080" stroke-width="0.9"/>
<rect x="106.44" y="286.0" width="5.4" height="16.50" fill="#c8b080" fill-opacity="0.65" stroke="#c8b080" stroke-width="0.7"/>
<rect x="108.14" y="232.9" width="2.0" height="1.8" fill="#907e5c"/>
<line x1="119.38" y1="282.4" x2="119.38" y2="293.2" stroke="#c8c070" stroke-width="0.7"/>
<line x1="118.08" y1="282.4" x2="120.67" y2="282.4" stroke="#c8c070" stroke-width="0.9"/>
<rect x="116.67" y="293.2" width="5.4" height="9.30" fill="#c8c070" fill-opacity="0.65" stroke="#c8c070" stroke-width="0.7"/>
<line x1="116.67" y1="291.2" x2="122.08" y2="291.2" stroke="#c8c070" stroke-width="0.8"/>
<rect x="118.38" y="231.0" width="2.0" height="1.8" fill="#908a50"/>
<rect x="126.91" y="298.5" width="5.4" height="4.00" fill="#c8c060" fill-opacity="0.65" stroke="#c8c060" stroke-width="0.7"/>
<line x1="126.91" y1="293.5" x2="132.31" y2="293.5" stroke="#c8c060" stroke-width="0.8"/>
<rect x="128.61" y="227.6" width="2.0" height="1.8" fill="#908a45"/>
<rect x="128.61" y="289.6" width="2.0" height="1.8" fill="#908a45"/>
<line x1="139.84" y1="286.5" x2="139.84" y2="294.6" stroke="#c8c880" stroke-width="0.7"/>
<line x1="138.54" y1="286.5" x2="141.15" y2="286.5" stroke="#c8c880" stroke-width="0.9"/>
<rect x="137.15" y="294.6" width="5.4" height="7.90" fill="#c8c880" fill-opacity="0.65" stroke="#c8c880" stroke-width="0.7"/>
<rect x="138.84" y="236.29999999999998" width="2.0" height="1.8" fill="#90905c"/>
<rect x="138.84" y="239.4" width="2.0" height="1.8" fill="#90905c"/>
<rect x="138.84" y="274.8" width="2.0" height="1.8" fill="#90905c"/>
<rect x="147.38" y="299.2" width="5.4" height="3.30" fill="#b8c060" fill-opacity="0.65" stroke="#b8c060" stroke-width="0.7"/>
<rect x="149.08" y="229.6" width="2.0" height="1.8" fill="#848a45"/>
<rect x="149.08" y="276.5" width="2.0" height="1.8" fill="#848a45"/>
<rect x="149.08" y="294.1" width="2.0" height="1.8" fill="#848a45"/>
<line x1="160.31" y1="297.7" x2="160.31" y2="299.2" stroke="#a8c860" stroke-width="0.7"/>
<line x1="159.01" y1="297.7" x2="161.62" y2="297.7" stroke="#a8c860" stroke-width="0.9"/>
<rect x="157.62" y="299.2" width="5.4" height="3.30" fill="#a8c860" fill-opacity="0.65" stroke="#a8c860" stroke-width="0.7"/>
<rect x="167.85" y="301.0" width="5.4" height="1.50" fill="#90c050" fill-opacity="0.65" stroke="#90c050" stroke-width="0.7"/>
<rect x="169.55" y="294.1" width="2.0" height="1.8" fill="#678a39"/>
<rect x="169.55" y="296.3" width="2.0" height="1.8" fill="#678a39"/>
<rect x="178.09" y="301.6" width="5.4" height="0.90" fill="#80c060" fill-opacity="0.65" stroke="#80c060" stroke-width="0.7"/>
<rect x="188.32" y="301.6" width="5.4" height="0.90" fill="#70b040" fill-opacity="0.65" stroke="#70b040" stroke-width="0.7"/>
<line x1="201.25" y1="299.0" x2="201.25" y2="300.5" stroke="#60a840" stroke-width="0.7"/>
<line x1="199.95" y1="299.0" x2="202.56" y2="299.0" stroke="#60a840" stroke-width="0.9"/>
<rect x="198.56" y="300.5" width="5.4" height="2.00" fill="#60a840" fill-opacity="0.65" stroke="#60a840" stroke-width="0.7"/>
<line x1="211.49" y1="299.5" x2="211.49" y2="301.0" stroke="#40a040" stroke-width="0.7"/>
<line x1="210.19" y1="299.5" x2="212.79" y2="299.5" stroke="#40a040" stroke-width="0.9"/>
<rect x="208.79" y="301.0" width="5.4" height="1.50" fill="#40a040" fill-opacity="0.65" stroke="#40a040" stroke-width="0.7"/>
<line x1="221.72" y1="300" x2="221.72" y2="301.0" stroke="#30a040" stroke-width="0.7"/>
<line x1="220.42" y1="300" x2="223.02" y2="300" stroke="#30a040" stroke-width="0.9"/>
<rect x="219.02" y="301.0" width="5.4" height="1.50" fill="#30a040" fill-opacity="0.65" stroke="#30a040" stroke-width="0.7"/>
<line x1="231.96" y1="299" x2="231.96" y2="301.0" stroke="#108040" stroke-width="0.7"/>
<line x1="230.66" y1="299" x2="233.26" y2="299" stroke="#108040" stroke-width="0.9"/>
<rect x="229.26" y="301.0" width="5.4" height="1.50" fill="#108040" fill-opacity="0.65" stroke="#108040" stroke-width="0.7"/>
<rect x="230.96" y="281.8" width="2.0" height="1.8" fill="#40a040"/>
<line x1="242.19" y1="298.3" x2="242.19" y2="301.0" stroke="#108040" stroke-width="0.7"/>
<line x1="240.89" y1="298.3" x2="243.50" y2="298.3" stroke="#108040" stroke-width="0.9"/>
<rect x="239.50" y="301.0" width="5.4" height="1.50" fill="#108040" fill-opacity="0.65" stroke="#108040" stroke-width="0.7"/>
<line x1="252.43" y1="300" x2="252.43" y2="301.0" stroke="#70b090" stroke-width="0.7"/>
<line x1="251.13" y1="300" x2="253.73" y2="300" stroke="#70b090" stroke-width="0.9"/>
<rect x="249.73" y="301.0" width="5.4" height="1.50" fill="#70b090" fill-opacity="0.65" stroke="#70b090" stroke-width="0.7"/>
<line x1="262.66" y1="300.3" x2="262.66" y2="301.0" stroke="#70b0a0" stroke-width="0.7"/>
<line x1="261.36" y1="300.3" x2="263.96" y2="300.3" stroke="#70b0a0" stroke-width="0.9"/>
<rect x="259.96" y="301.0" width="5.4" height="1.50" fill="#70b0a0" fill-opacity="0.65" stroke="#70b0a0" stroke-width="0.7"/>
<line x1="272.90" y1="299.5" x2="272.90" y2="301.0" stroke="#60a0c0" stroke-width="0.7"/>
<line x1="271.60" y1="299.5" x2="274.20" y2="299.5" stroke="#60a0c0" stroke-width="0.9"/>
<rect x="270.20" y="301.0" width="5.4" height="1.50" fill="#60a0c0" fill-opacity="0.65" stroke="#60a0c0" stroke-width="0.7"/>
<line x1="283.13" y1="301" x2="283.13" y2="301.0" stroke="#70b0d0" stroke-width="0.7"/>
<line x1="281.83" y1="301" x2="284.44" y2="301" stroke="#70b0d0" stroke-width="0.9"/>
<rect x="280.44" y="301.0" width="5.4" height="1.50" fill="#70b0d0" fill-opacity="0.65" stroke="#70b0d0" stroke-width="0.7"/>
<line x1="293.37" y1="301" x2="293.37" y2="301.0" stroke="#70a0d0" stroke-width="0.7"/>
<line x1="292.07" y1="301" x2="294.67" y2="301" stroke="#70a0d0" stroke-width="0.9"/>
<rect x="290.67" y="301.0" width="5.4" height="1.50" fill="#70a0d0" fill-opacity="0.65" stroke="#70a0d0" stroke-width="0.7"/>
<line x1="303.60" y1="299" x2="303.60" y2="301.0" stroke="#4060c0" stroke-width="0.7"/>
<line x1="302.30" y1="299" x2="304.90" y2="299" stroke="#4060c0" stroke-width="0.9"/>
<rect x="300.90" y="301.0" width="5.4" height="1.50" fill="#4060c0" fill-opacity="0.65" stroke="#4060c0" stroke-width="0.7"/>
<line x1="313.84" y1="299" x2="313.84" y2="301.0" stroke="#3050b8" stroke-width="0.7"/>
<line x1="312.54" y1="299" x2="315.14" y2="299" stroke="#3050b8" stroke-width="0.9"/>
<rect x="311.14" y="301.0" width="5.4" height="1.50" fill="#3050b8" fill-opacity="0.65" stroke="#3050b8" stroke-width="0.7"/>
<line x1="324.07" y1="299" x2="324.07" y2="301.0" stroke="#3040a0" stroke-width="0.7"/>
<line x1="322.77" y1="299" x2="325.38" y2="299" stroke="#3040a0" stroke-width="0.9"/>
<rect x="321.38" y="301.0" width="5.4" height="1.50" fill="#3040a0" fill-opacity="0.65" stroke="#3040a0" stroke-width="0.7"/>
<line x1="334.31" y1="299.3" x2="334.31" y2="301.0" stroke="#3040a0" stroke-width="0.7"/>
<line x1="333.01" y1="299.3" x2="335.61" y2="299.3" stroke="#3040a0" stroke-width="0.9"/>
<rect x="331.61" y="301.0" width="5.4" height="1.50" fill="#3040a0" fill-opacity="0.65" stroke="#3040a0" stroke-width="0.7"/>
<line x1="344.54" y1="299" x2="344.54" y2="301.0" stroke="#202080" stroke-width="0.7"/>
<line x1="343.24" y1="299" x2="345.84" y2="299" stroke="#202080" stroke-width="0.9"/>
<rect x="341.84" y="301.0" width="5.4" height="1.50" fill="#202080" fill-opacity="0.65" stroke="#202080" stroke-width="0.7"/>
<line x1="354.78" y1="301" x2="354.78" y2="301.0" stroke="#5030a0" stroke-width="0.7"/>
<line x1="353.48" y1="301" x2="356.08" y2="301" stroke="#5030a0" stroke-width="0.9"/>
<rect x="352.08" y="301.0" width="5.4" height="1.50" fill="#5030a0" fill-opacity="0.65" stroke="#5030a0" stroke-width="0.7"/>
<line x1="365.01" y1="301" x2="365.01" y2="301.0" stroke="#6030a0" stroke-width="0.7"/>
<line x1="363.71" y1="301" x2="366.31" y2="301" stroke="#6030a0" stroke-width="0.9"/>
<rect x="362.31" y="301.0" width="5.4" height="1.50" fill="#6030a0" fill-opacity="0.65" stroke="#6030a0" stroke-width="0.7"/>
<line x1="375.25" y1="299.3" x2="375.25" y2="301.0" stroke="#7030a0" stroke-width="0.7"/>
<line x1="373.95" y1="299.3" x2="376.55" y2="299.3" stroke="#7030a0" stroke-width="0.9"/>
<rect x="372.55" y="301.0" width="5.4" height="1.50" fill="#7030a0" fill-opacity="0.65" stroke="#7030a0" stroke-width="0.7"/>
<rect x="382.78" y="301.8" width="5.4" height="0.70" fill="#9040b0" fill-opacity="0.65" stroke="#9040b0" stroke-width="0.7"/>
<rect x="393.02" y="301.8" width="5.4" height="0.70" fill="#a040b0" fill-opacity="0.65" stroke="#a040b0" stroke-width="0.7"/>
<line x1="405.95" y1="298.8" x2="405.95" y2="301.0" stroke="#a040a0" stroke-width="0.7"/>
<line x1="404.65" y1="298.8" x2="407.25" y2="298.8" stroke="#a040a0" stroke-width="0.9"/>
<rect x="403.25" y="301.0" width="5.4" height="1.50" fill="#a040a0" fill-opacity="0.65" stroke="#a040a0" stroke-width="0.7"/>
<rect x="413.49" y="301.8" width="5.4" height="0.70" fill="#b040a0" fill-opacity="0.65" stroke="#b040a0" stroke-width="0.7"/>
<rect x="423.72" y="301.8" width="5.4" height="0.70" fill="#b04070" fill-opacity="0.65" stroke="#b04070" stroke-width="0.7"/>
<rect x="433.96" y="301.8" width="5.4" height="0.70" fill="#b04070" fill-opacity="0.65" stroke="#b04070" stroke-width="0.7"/>
<rect x="444.19" y="301.8" width="5.4" height="0.70" fill="#a03050" fill-opacity="0.65" stroke="#a03050" stroke-width="0.7"/>
</g>
<line x1="61.5" y1="220" x2="61.5" y2="303" stroke="#000" stroke-width="1.3"/>
<line x1="58" y1="222.8" x2="61.5" y2="222.8" stroke="#000" stroke-width="1"/>
<text stroke="#000" stroke-width="0.1" x="55.6" y="225.8" font-size="8.5" text-anchor="end">5</text>
<line x1="58" y1="238.8" x2="61.5" y2="238.8" stroke="#000" stroke-width="1"/>
<text stroke="#000" stroke-width="0.1" x="55.6" y="241.8" font-size="8.5" text-anchor="end">0.8</text>
<line x1="58" y1="254.5" x2="61.5" y2="254.5" stroke="#000" stroke-width="1"/>
<text stroke="#000" stroke-width="0.1" x="55.6" y="257.5" font-size="8.5" text-anchor="end">0.6</text>
<line x1="58" y1="270.5" x2="61.5" y2="270.5" stroke="#000" stroke-width="1"/>
<text stroke="#000" stroke-width="0.1" x="55.6" y="273.5" font-size="8.5" text-anchor="end">0.4</text>
<line x1="58" y1="286.5" x2="61.5" y2="286.5" stroke="#000" stroke-width="1"/>
<text stroke="#000" stroke-width="0.1" x="55.6" y="289.5" font-size="8.5" text-anchor="end">0.2</text>
<line x1="58" y1="302.5" x2="61.5" y2="302.5" stroke="#000" stroke-width="1"/>
<text stroke="#000" stroke-width="0.1" x="55.6" y="305.5" font-size="8.5" text-anchor="end">0</text>
<line x1="61" y1="302.5" x2="450.5" y2="302.5" stroke="#111" stroke-width="1.4"/>
<text stroke="#000" stroke-width="0.1" transform="translate(36.0,260.5) rotate(-90)" font-size="8.5" text-anchor="middle">SMAD1 DNA methylation</text>
<text stroke="#c0203c" stroke-width="0.08" transform="translate(69.80,309.4) rotate(-45)" font-size="6.75" text-anchor="end" fill="#c0203c">Lymphoma_DLBCL (18)</text>
<text stroke="#1a1a1a" stroke-width="0.08" transform="translate(80.03,309.4) rotate(-45)" font-size="6.75" text-anchor="end" fill="#1a1a1a">B-cell_Lymphoma_Other (16)</text>
<text stroke="#1a1a1a" stroke-width="0.08" transform="translate(90.27,309.4) rotate(-45)" font-size="6.75" text-anchor="end" fill="#1a1a1a">Multiple_Myeloma (29)</text>
<text stroke="#1a1a1a" stroke-width="0.08" transform="translate(100.50,309.4) rotate(-45)" font-size="6.75" text-anchor="end" fill="#1a1a1a">Lymphoma_Burkitt (11)</text>
<text stroke="#1a1a1a" stroke-width="0.08" transform="translate(110.74,309.4) rotate(-45)" font-size="6.75" text-anchor="end" fill="#1a1a1a">B-cell_ALL (13)</text>
<text stroke="#1a1a1a" stroke-width="0.08" transform="translate(120.97,309.4) rotate(-45)" font-size="6.75" text-anchor="end" fill="#1a1a1a">T-cell_Lymphoma_Other (11)</text>
<text stroke="#1a1a1a" stroke-width="0.08" transform="translate(131.21,309.4) rotate(-45)" font-size="6.75" text-anchor="end" fill="#1a1a1a">Lymphoma_Hodgkin (13)</text>
<text stroke="#1a1a1a" stroke-width="0.08" transform="translate(141.44,309.4) rotate(-45)" font-size="6.75" text-anchor="end" fill="#1a1a1a">AML(39)</text>
<text stroke="#1a1a1a" stroke-width="0.08" transform="translate(151.68,309.4) rotate(-45)" font-size="6.75" text-anchor="end" fill="#1a1a1a">T-cell_ALL (16)</text>
<text stroke="#1a1a1a" stroke-width="0.08" transform="translate(161.91,309.4) rotate(-45)" font-size="6.75" text-anchor="end" fill="#1a1a1a">Prostate (8)</text>
<text stroke="#1a1a1a" stroke-width="0.08" transform="translate(172.15,309.4) rotate(-45)" font-size="6.75" text-anchor="end" fill="#1a1a1a">CML (15)</text>
<text stroke="#1a1a1a" stroke-width="0.08" transform="translate(182.38,309.4) rotate(-45)" font-size="6.75" text-anchor="end" fill="#1a1a1a">Chondrosarcoma (4)</text>
<text stroke="#1a1a1a" stroke-width="0.08" transform="translate(192.62,309.4) rotate(-45)" font-size="6.75" text-anchor="end" fill="#1a1a1a">Other (8)</text>
<text stroke="#1a1a1a" stroke-width="0.08" transform="translate(202.85,309.4) rotate(-45)" font-size="6.75" text-anchor="end" fill="#1a1a1a">Kidney (37)</text>
<text stroke="#1a1a1a" stroke-width="0.08" transform="translate(213.09,309.4) rotate(-45)" font-size="6.75" text-anchor="end" fill="#1a1a1a">Melanoma (63)</text>
<text stroke="#1a1a1a" stroke-width="0.08" transform="translate(223.32,309.4) rotate(-45)" font-size="6.75" text-anchor="end" fill="#1a1a1a">Stomach (39)</text>
<text stroke="#1a1a1a" stroke-width="0.08" transform="translate(233.56,309.4) rotate(-45)" font-size="6.75" text-anchor="end" fill="#1a1a1a">Lung_NSC (136)</text>
<text stroke="#1a1a1a" stroke-width="0.08" transform="translate(243.79,309.4) rotate(-45)" font-size="6.75" text-anchor="end" fill="#1a1a1a">Ovary(55)</text>
<text stroke="#1a1a1a" stroke-width="0.08" transform="translate(254.03,309.4) rotate(-45)" font-size="6.75" text-anchor="end" fill="#1a1a1a">Upper_Aerodigestive (33)</text>
<text stroke="#1a1a1a" stroke-width="0.08" transform="translate(264.26,309.4) rotate(-45)" font-size="6.75" text-anchor="end" fill="#1a1a1a">Esophagus (27)</text>
<text stroke="#1a1a1a" stroke-width="0.08" transform="translate(274.50,309.4) rotate(-45)" font-size="6.75" text-anchor="end" fill="#1a1a1a">Liver (29)</text>
<text stroke="#1a1a1a" stroke-width="0.08" transform="translate(284.74,309.4) rotate(-45)" font-size="6.75" text-anchor="end" fill="#1a1a1a">Soft_Tissue (20)</text>
<text stroke="#1a1a1a" stroke-width="0.08" transform="translate(294.97,309.4) rotate(-45)" font-size="6.75" text-anchor="end" fill="#1a1a1a">Mesothelioma (11)</text>
<text stroke="#1a1a1a" stroke-width="0.08" transform="translate(305.20,309.4) rotate(-45)" font-size="6.75" text-anchor="end" fill="#1a1a1a">Urinary Tract (28)</text>
<text stroke="#1a1a1a" stroke-width="0.08" transform="translate(315.44,309.4) rotate(-45)" font-size="6.75" text-anchor="end" fill="#1a1a1a">Colorectal (63)</text>
<text stroke="#1a1a1a" stroke-width="0.08" transform="translate(325.68,309.4) rotate(-45)" font-size="6.75" text-anchor="end" fill="#1a1a1a">Endometrium (26)</text>
<text stroke="#1a1a1a" stroke-width="0.08" transform="translate(335.91,309.4) rotate(-45)" font-size="6.75" text-anchor="end" fill="#1a1a1a">Thyroid (12)</text>
<text stroke="#1a1a1a" stroke-width="0.08" transform="translate(346.14,309.4) rotate(-45)" font-size="6.75" text-anchor="end" fill="#1a1a1a">Lung_Small_Cell (54)</text>
<text stroke="#1a1a1a" stroke-width="0.08" transform="translate(356.38,309.4) rotate(-45)" font-size="6.75" text-anchor="end" fill="#1a1a1a">Breast (60)</text>
<text stroke="#1a1a1a" stroke-width="0.08" transform="translate(366.62,309.4) rotate(-45)" font-size="6.75" text-anchor="end" fill="#1a1a1a">Bile_Duct (8)</text>
<text stroke="#1a1a1a" stroke-width="0.08" transform="translate(376.85,309.4) rotate(-45)" font-size="6.75" text-anchor="end" fill="#1a1a1a">Pancreas (46)</text>
<text stroke="#1a1a1a" stroke-width="0.08" transform="translate(387.08,309.4) rotate(-45)" font-size="6.75" text-anchor="end" fill="#1a1a1a">Neuroblastoma (17)</text>
<text stroke="#1a1a1a" stroke-width="0.08" transform="translate(397.32,309.4) rotate(-45)" font-size="6.75" text-anchor="end" fill="#1a1a1a">Medulloblastoma (4)</text>
<text stroke="#1a1a1a" stroke-width="0.08" transform="translate(407.56,309.4) rotate(-45)" font-size="6.75" text-anchor="end" fill="#1a1a1a">Glioma (66)</text>
<text stroke="#1a1a1a" stroke-width="0.08" transform="translate(417.79,309.4) rotate(-45)" font-size="6.75" text-anchor="end" fill="#1a1a1a">Osteosarcoma (10)</text>
<text stroke="#1a1a1a" stroke-width="0.08" transform="translate(428.02,309.4) rotate(-45)" font-size="6.75" text-anchor="end" fill="#1a1a1a">Ewings_Sarcoma (12)</text>
<text stroke="#1a1a1a" stroke-width="0.08" transform="translate(438.26,309.4) rotate(-45)" font-size="6.75" text-anchor="end" fill="#1a1a1a">Giant_Cell_Tumour (3)</text>
<text stroke="#1a1a1a" stroke-width="0.08" transform="translate(448.50,309.4) rotate(-45)" font-size="6.75" text-anchor="end" fill="#1a1a1a">Leukemia_Other (5)</text>
<text stroke="#000" stroke-width="0.35" x="7.6" y="18.3" font-size="12.5" font-weight="bold">A</text>
<text stroke="#000" stroke-width="0.35" x="7.6" y="212" font-size="12.5" font-weight="bold">B</text>
<text stroke="#000" stroke-width="0.35" x="7.8" y="400.6" font-size="12.5" font-weight="bold">C</text>
<text stroke="#000" stroke-width="0.35" x="220.2" y="400.4" font-size="12.5" font-weight="bold">D</text>
<text stroke="#000" stroke-width="0.35" x="8.2" y="535.0" font-size="12.5" font-weight="bold">E</text>
<line x1="46" y1="462.8" x2="169" y2="462.8" stroke="#222" stroke-width="1.6"/>
<line x1="136.5" y1="409.5" x2="136.5" y2="492" stroke="#000" stroke-width="1.1"/>
<line x1="48.90" y1="462.8" x2="48.90" y2="465.8" stroke="#000" stroke-width="1"/>
<text stroke="#000" stroke-width="0.1" x="48.90" y="477.3" font-size="8.2" text-anchor="middle">-15</text>
<line x1="78.10" y1="462.8" x2="78.10" y2="465.8" stroke="#000" stroke-width="1"/>
<text stroke="#000" stroke-width="0.1" x="78.10" y="477.3" font-size="8.2" text-anchor="middle">-10</text>
<line x1="107.30" y1="462.8" x2="107.30" y2="465.8" stroke="#000" stroke-width="1"/>
<text stroke="#000" stroke-width="0.1" x="107.30" y="477.3" font-size="8.2" text-anchor="middle">-5</text>
<line x1="165.70" y1="462.8" x2="165.70" y2="465.8" stroke="#000" stroke-width="1"/>
<text stroke="#000" stroke-width="0.1" x="165.70" y="477.3" font-size="8.2" text-anchor="middle">5</text>
<line x1="136.5" y1="411.50" x2="139.5" y2="411.50" stroke="#000" stroke-width="1"/>
<text stroke="#000" stroke-width="0.1" x="141.8" y="414.50" font-size="8.2">1.0</text>
<line x1="136.5" y1="436.90" x2="139.5" y2="436.90" stroke="#000" stroke-width="1"/>
<text stroke="#000" stroke-width="0.1" x="141.8" y="439.90" font-size="8.2">0.5</text>
<line x1="136.5" y1="487.70" x2="139.5" y2="487.70" stroke="#000" stroke-width="1"/>
<text stroke="#000" stroke-width="0.1" x="140.3" y="490.70" font-size="8.2">-0.5</text>
<text stroke="#000" stroke-width="0.1" x="165.8" y="438.4" font-size="8.6">p&lt;0.0001</text>
<text stroke="#000" stroke-width="0.35" x="108.4" y="504.9" font-size="9.4" textLength="56.4" lengthAdjust="spacingAndGlyphs">mRNA expression</text>
<text stroke="#000" stroke-width="0.1" transform="translate(36.6,450.5) rotate(-90)" font-size="8.5" text-anchor="middle">DNA methylation</text>
<line x1="60.6" y1="416.2" x2="159.6" y2="468.8" stroke="#222" stroke-width="1.1"/>
<circle cx="60.8" cy="419.4" r="1.8" fill="#b0102c"/>
<circle cx="85.8" cy="420.3" r="1.8" fill="#b0102c"/>
<circle cx="108.2" cy="418" r="1.8" fill="#b0102c"/>
<circle cx="90.4" cy="427.2" r="1.8" fill="#b0102c"/>
<circle cx="115.8" cy="446.2" r="1.8" fill="#b0102c"/>
<circle cx="111.2" cy="452.2" r="1.8" fill="#b0102c"/>
<circle cx="102.4" cy="457.2" r="1.8" fill="#b0102c"/>
<circle cx="125" cy="448" r="1.8" fill="#b0102c"/>
<circle cx="127.3" cy="455.4" r="1.8" fill="#b0102c"/>
<circle cx="135.4" cy="454.2" r="1.8" fill="#b0102c"/>
<circle cx="128" cy="462.7" r="1.8" fill="#b0102c"/>
<circle cx="137.2" cy="462.7" r="1.8" fill="#b0102c"/>
<circle cx="145.8" cy="462.2" r="1.8" fill="#b0102c"/>
<circle cx="147" cy="460.9" r="1.8" fill="#b0102c"/>
<circle cx="151.5" cy="462.7" r="1.8" fill="#b0102c"/>
<circle cx="159.6" cy="462.7" r="1.8" fill="#b0102c"/>
<text stroke="#2c4f9a" stroke-width="0.1" transform="translate(277.40,452) rotate(-90)" font-size="10.2" fill="#2c4f9a">U2932</text>
<text stroke="#2c4f9a" stroke-width="0.1" transform="translate(297.40,452) rotate(-90)" font-size="10.2" fill="#2c4f9a">Oci·Ly3</text>
<text stroke="#2c4f9a" stroke-width="0.1" transform="translate(315.90,452) rotate(-90)" font-size="10.2" fill="#2c4f9a">SU-DHL-2</text>
<text stroke="#2c4f9a" stroke-width="0.1" transform="translate(335.70,452) rotate(-90)" font-size="10.2" fill="#2c4f9a">RIVA</text>
<text stroke="#111" stroke-width="0.1" transform="translate(355.60,452) rotate(-90)" font-size="10.2" fill="#111">RC·K8</text>
<text stroke="#5aa33c" stroke-width="0.1" transform="translate(374.40,452) rotate(-90)" font-size="10.2" fill="#5aa33c">SU·DHL·4</text>
<text stroke="#5aa33c" stroke-width="0.1" transform="translate(393.80,452) rotate(-90)" font-size="10.2" fill="#5aa33c">SU·DHL·5</text>
<text stroke="#5aa33c" stroke-width="0.1" transform="translate(413.20,452) rotate(-90)" font-size="10.2" fill="#5aa33c">SU·DHL·6</text>
<text stroke="#5aa33c" stroke-width="0.1" transform="translate(432.10,452) rotate(-90)" font-size="10.2" fill="#5aa33c">SU·DHL·8</text>
<text stroke="#5aa33c" stroke-width="0.1" transform="translate(451.40,452) rotate(-90)" font-size="10.2" fill="#5aa33c">SU·DHL·10</text>
<text stroke="#5aa33c" stroke-width="0.1" transform="translate(470.60,452) rotate(-90)" font-size="10.2" fill="#5aa33c">SU·DHL·16</text>
<text stroke="#000" stroke-width="0.1" x="220.3" y="468.8" font-size="10">SMAD1</text>
<text stroke="#000" stroke-width="0.1" x="224.4" y="493.9" font-size="10">Tubulin</text>
<defs><filter id="bl" x="-20%" y="-60%" width="140%" height="220%"><feGaussianBlur stdDeviation="0.8"/></filter><filter id="bl2" x="-20%" y="-60%" width="140%" height="220%"><feGaussianBlur stdDeviation="1.2"/></filter><filter id="bl3" x="-20%" y="-60%" width="140%" height="220%"><feGaussianBlur stdDeviation="0.75"/></filter></defs>
<rect x="259.5" y="456.8" width="218.6" height="18.6" fill="#f1f1f1" stroke="#000" stroke-width="1.6"/>
<rect x="259.5" y="480.9" width="218.6" height="22.6" fill="#fff" stroke="#000" stroke-width="1.5"/>
<g filter="url(#bl2)">
<path d="M437 469.5 Q443 467.5 449.5 467.3" stroke="#ddd" stroke-width="1.6" fill="none"/>
<path d="M455 468.5 Q462 466 470 464" stroke="#eee" stroke-width="1.6" fill="none"/>
<path d="M300 468 L330 468" stroke="#f0f0f0" stroke-width="3" fill="none"/>
</g>
<g>
<ellipse cx="408" cy="466.2" rx="10" ry="5" fill="#d0d0d0" filter="url(#bl2)"/>
<path d="M400.6 464.4 Q401 463.2 403.5 463.4 Q407.5 464.0 410 463.4 Q414 462.8 415.5 463.6 Q416.5 465.4 415.5 467.4 Q408 468.0 402.2 469.7 Q400.3 469.9 400.5 467.5 Z" fill="#000" filter="url(#bl3)"/>
</g>
<g filter="url(#bl)">
<path d="M452.6 490.6 Q462 489.6 473.5 488.2 L473.5 491.6 Q462 492.6 452.6 492.2 Z" fill="#2a2a2a"/>
<path d="M265.6 488.9 Q274.1 488.4 282.7 488.9 Q283.8 491.0 282.7 493.1 Q274.1 494.1 265.6 493.1 Q264.5 491.0 265.6 488.9Z" fill="#2a2a2a"/>
<path d="M286.1 490.4 Q295.1 489.9 304.2 490.4 Q305.3 492.3 304.2 494.2 Q295.1 495.2 286.1 494.2 Q285.0 492.3 286.1 490.4Z" fill="#6a6a6a"/>
<path d="M305.9 490.4 Q313.6 489.9 321.4 490.4 Q322.5 492.3 321.4 494.2 Q313.6 495.2 305.9 494.2 Q304.8 492.3 305.9 490.4Z" fill="#5a5a5a"/>
<path d="M323.8 489.4 Q332.4 488.9 340.9 489.4 Q342.0 492.0 340.9 494.6 Q332.4 495.6 323.8 494.6 Q322.7 492.0 323.8 489.4Z" fill="#0a0a0a"/>
<path d="M342.1 489.3 Q350.6 488.8 359.1 489.3 Q360.2 491.6 359.1 493.9 Q350.6 494.9 342.1 493.9 Q341.0 491.6 342.1 489.3Z" fill="#141414"/>
<path d="M360.4 489.5 Q368.8 489.0 377.2 489.5 Q378.3 491.8 377.2 494.1 Q368.8 495.1 360.4 494.1 Q359.3 491.8 360.4 489.5Z" fill="#141414"/>
<path d="M379.1 489.8 Q387.3 489.3 395.5 489.8 Q396.6 492.0 395.5 494.2 Q387.3 495.2 379.1 494.2 Q378.0 492.0 379.1 489.8Z" fill="#181818"/>
<path d="M396.8 491.0 Q404.9 490.5 413.1 491.0 Q414.2 493.6 413.1 496.2 Q404.9 497.2 396.8 496.2 Q395.7 493.6 396.8 491.0Z" fill="#101010"/>
<path d="M414.8 490.1 Q422.7 489.6 430.6 490.1 Q431.7 492.3 430.6 494.5 Q422.7 495.5 414.8 494.5 Q413.7 492.3 414.8 490.1Z" fill="#141414"/>
<path d="M433.0 489.2 Q441.1 488.7 449.2 489.2 Q450.3 491.4 449.2 493.6 Q441.1 494.6 433.0 493.6 Q431.9 491.4 433.0 489.2Z" fill="#141414"/>
</g>
<g filter="url(#bl2)">
<path d="M397 483.6 Q405 482.4 413 483.6 L413 487.6 Q405 486.8 397 487.6 Z" fill="#9a9a9a"/>
</g>
<text stroke="#000" stroke-width="0.1" x="83.1" y="549.3" font-size="10" text-anchor="middle">1</text>
<text stroke="#000" stroke-width="0.1" x="163.8" y="549.3" font-size="10" text-anchor="middle">2</text>
<text stroke="#000" stroke-width="0.1" x="286.8" y="549.3" font-size="10" text-anchor="middle">3</text>
<text stroke="#000" stroke-width="0.1" x="400.2" y="549.3" font-size="10" text-anchor="middle">4</text>
<text stroke="#000" stroke-width="0.1" x="488.1" y="549.5" font-size="10" text-anchor="middle">5</text>
<text stroke="#b5193a" stroke-width="0.1" x="20.10" y="567.6" font-size="10.6" fill="#b5193a" textLength="47.8" lengthAdjust="spacingAndGlyphs">SU·DHL·6</text>
<text stroke="#111" stroke-width="0.1" x="37.50" y="592.3" font-size="10.6" fill="#111" textLength="30.4" lengthAdjust="spacingAndGlyphs">RC·K8</text>
<text stroke="#111" stroke-width="0.1" x="20.10" y="617.9" font-size="10.6" fill="#111" textLength="47.8" lengthAdjust="spacingAndGlyphs">SU·DHL·4</text>
<text stroke="#111" stroke-width="0.1" x="45.90" y="642.7" font-size="10.6" fill="#111" textLength="22.0" lengthAdjust="spacingAndGlyphs">RIVA</text>
<rect x="71.3" y="554.2" width="24.40" height="18.60" fill="#fff" stroke="#4a4a4a" stroke-width="0.9"/>
<circle cx="74.60" cy="557.90" r="2.20" fill="#fff" stroke="#5e5e5e" stroke-width="0.85"/>
<circle cx="80.50" cy="557.90" r="2.20" fill="#fff" stroke="#5e5e5e" stroke-width="0.85"/>
<circle cx="86.40" cy="557.90" r="2.20" fill="#fff" stroke="#5e5e5e" stroke-width="0.85"/>
<circle cx="92.30" cy="557.90" r="2.20" fill="#fff" stroke="#5e5e5e" stroke-width="0.85"/>
<circle cx="74.60" cy="563.50" r="2.20" fill="#fff" stroke="#5e5e5e" stroke-width="0.85"/>
<circle cx="80.50" cy="563.50" r="2.20" fill="#fff" stroke="#5e5e5e" stroke-width="0.85"/>
<circle cx="86.40" cy="563.50" r="2.20" fill="#fff" stroke="#5e5e5e" stroke-width="0.85"/>
<circle cx="92.30" cy="563.50" r="2.20" fill="#fff" stroke="#5e5e5e" stroke-width="0.85"/>
<circle cx="74.60" cy="569.10" r="2.20" fill="#fff" stroke="#5e5e5e" stroke-width="0.85"/>
<circle cx="80.50" cy="569.10" r="2.20" fill="#fff" stroke="#5e5e5e" stroke-width="0.85"/>
<circle cx="86.40" cy="569.10" r="2.20" fill="#fff" stroke="#5e5e5e" stroke-width="0.85"/>
<circle cx="92.30" cy="569.10" r="2.40" fill="#000"/>
<rect x="71.3" y="578.9" width="24.40" height="19.00" fill="#fff" stroke="#4a4a4a" stroke-width="0.9"/>
<circle cx="74.60" cy="582.60" r="2.20" fill="#fff" stroke="#5e5e5e" stroke-width="0.85"/>
<circle cx="80.50" cy="582.60" r="2.20" fill="#fff" stroke="#5e5e5e" stroke-width="0.85"/>
<circle cx="86.40" cy="582.60" r="2.20" fill="#fff" stroke="#5e5e5e" stroke-width="0.85"/>
<circle cx="92.30" cy="582.60" r="2.40" fill="#000"/>
<circle cx="74.60" cy="588.40" r="2.20" fill="#fff" stroke="#5e5e5e" stroke-width="0.85"/>
<circle cx="80.50" cy="588.40" r="2.20" fill="#fff" stroke="#5e5e5e" stroke-width="0.85"/>
<circle cx="86.40" cy="588.40" r="2.20" fill="#fff" stroke="#5e5e5e" stroke-width="0.85"/>
<circle cx="92.30" cy="588.40" r="2.40" fill="#000"/>
<circle cx="74.60" cy="594.20" r="2.20" fill="#fff" stroke="#5e5e5e" stroke-width="0.85"/>
<circle cx="80.50" cy="594.20" r="2.40" fill="#000"/>
<circle cx="86.40" cy="594.20" r="2.20" fill="#fff" stroke="#5e5e5e" stroke-width="0.85"/>
<circle cx="92.30" cy="594.20" r="2.40" fill="#000"/>
<rect x="71.3" y="604.5" width="24.40" height="18.40" fill="#fff" stroke="#4a4a4a" stroke-width="0.9"/>
<path d="M73.14 606.74L76.06 609.66M76.06 606.74L73.14 609.66" stroke="#666" stroke-width="0.6"/>
<circle cx="80.50" cy="608.20" r="2.40" fill="#000"/>
<circle cx="86.40" cy="608.20" r="2.20" fill="#fff" stroke="#5e5e5e" stroke-width="0.85"/>
<circle cx="92.30" cy="608.20" r="2.40" fill="#000"/>
<circle cx="74.60" cy="613.70" r="2.40" fill="#000"/>
<circle cx="80.50" cy="613.70" r="2.40" fill="#000"/>
<circle cx="86.40" cy="613.70" r="2.40" fill="#000"/>
<circle cx="92.30" cy="613.70" r="2.40" fill="#000"/>
<circle cx="74.60" cy="619.20" r="2.40" fill="#000"/>
<circle cx="80.50" cy="619.20" r="2.40" fill="#000"/>
<circle cx="86.40" cy="619.20" r="2.20" fill="#fff" stroke="#5e5e5e" stroke-width="0.85"/>
<circle cx="92.30" cy="619.20" r="2.40" fill="#000"/>
<rect x="71.3" y="629.3" width="24.40" height="19.00" fill="#fff" stroke="#4a4a4a" stroke-width="0.9"/>
<circle cx="74.60" cy="633.00" r="2.40" fill="#000"/>
<circle cx="80.50" cy="633.00" r="2.40" fill="#000"/>
<circle cx="86.40" cy="633.00" r="2.20" fill="#fff" stroke="#5e5e5e" stroke-width="0.85"/>
<circle cx="92.30" cy="633.00" r="2.40" fill="#000"/>
<circle cx="74.60" cy="638.80" r="2.20" fill="#fff" stroke="#5e5e5e" stroke-width="0.85"/>
<circle cx="80.50" cy="638.80" r="2.20" fill="#fff" stroke="#5e5e5e" stroke-width="0.85"/>
<circle cx="86.40" cy="638.80" r="2.20" fill="#fff" stroke="#5e5e5e" stroke-width="0.85"/>
<circle cx="92.30" cy="638.80" r="2.20" fill="#fff" stroke="#5e5e5e" stroke-width="0.85"/>
<circle cx="74.60" cy="644.60" r="2.20" fill="#fff" stroke="#5e5e5e" stroke-width="0.85"/>
<circle cx="80.50" cy="644.60" r="2.20" fill="#fff" stroke="#5e5e5e" stroke-width="0.85"/>
<circle cx="86.40" cy="644.60" r="2.20" fill="#fff" stroke="#5e5e5e" stroke-width="0.85"/>
<circle cx="92.30" cy="644.60" r="2.20" fill="#fff" stroke="#5e5e5e" stroke-width="0.85"/>
<rect x="229.2" y="554.1" width="115.40" height="19.60" fill="#fff" stroke="#4a4a4a" stroke-width="0.9"/>
<circle cx="232.90" cy="557.60" r="2.00" fill="#fff" stroke="#5e5e5e" stroke-width="0.85"/>
<circle cx="239.24" cy="557.60" r="2.00" fill="#fff" stroke="#5e5e5e" stroke-width="0.85"/>
<circle cx="245.58" cy="557.60" r="2.00" fill="#fff" stroke="#5e5e5e" stroke-width="0.85"/>
<circle cx="251.92" cy="557.60" r="2.00" fill="#fff" stroke="#5e5e5e" stroke-width="0.85"/>
<circle cx="258.26" cy="557.60" r="2.00" fill="#fff" stroke="#5e5e5e" stroke-width="0.85"/>
<circle cx="264.60" cy="557.60" r="2.00" fill="#fff" stroke="#5e5e5e" stroke-width="0.85"/>
<circle cx="270.94" cy="557.60" r="2.00" fill="#fff" stroke="#5e5e5e" stroke-width="0.85"/>
<circle cx="277.28" cy="557.60" r="2.00" fill="#fff" stroke="#5e5e5e" stroke-width="0.85"/>
<circle cx="283.62" cy="557.60" r="2.00" fill="#fff" stroke="#5e5e5e" stroke-width="0.85"/>
<circle cx="289.96" cy="557.60" r="2.00" fill="#fff" stroke="#5e5e5e" stroke-width="0.85"/>
<circle cx="296.30" cy="557.60" r="2.00" fill="#fff" stroke="#5e5e5e" stroke-width="0.85"/>
<circle cx="302.64" cy="557.60" r="2.00" fill="#fff" stroke="#5e5e5e" stroke-width="0.85"/>
<circle cx="308.98" cy="557.60" r="2.00" fill="#fff" stroke="#5e5e5e" stroke-width="0.85"/>
<circle cx="315.32" cy="557.60" r="2.00" fill="#fff" stroke="#5e5e5e" stroke-width="0.85"/>
<circle cx="321.66" cy="557.60" r="2.00" fill="#fff" stroke="#5e5e5e" stroke-width="0.85"/>
<path d="M326.67 556.27L329.33 558.93M329.33 556.27L326.67 558.93" stroke="#666" stroke-width="0.6"/>
<circle cx="334.34" cy="557.60" r="2.00" fill="#fff" stroke="#5e5e5e" stroke-width="0.85"/>
<circle cx="340.68" cy="557.60" r="2.00" fill="#fff" stroke="#5e5e5e" stroke-width="0.85"/>
<circle cx="232.90" cy="563.90" r="2.20" fill="#000"/>
<circle cx="239.24" cy="563.90" r="2.00" fill="#fff" stroke="#5e5e5e" stroke-width="0.85"/>
<circle cx="245.58" cy="563.90" r="2.00" fill="#fff" stroke="#5e5e5e" stroke-width="0.85"/>
<circle cx="251.92" cy="563.90" r="2.20" fill="#000"/>
<circle cx="258.26" cy="563.90" r="2.20" fill="#000"/>
<circle cx="264.60" cy="563.90" r="2.20" fill="#000"/>
<circle cx="270.94" cy="563.90" r="2.20" fill="#000"/>
<circle cx="277.28" cy="563.90" r="2.20" fill="#000"/>
<circle cx="283.62" cy="563.90" r="2.20" fill="#000"/>
<circle cx="289.96" cy="563.90" r="2.20" fill="#000"/>
<circle cx="296.30" cy="563.90" r="2.20" fill="#000"/>
<circle cx="302.64" cy="563.90" r="2.20" fill="#000"/>
<circle cx="308.98" cy="563.90" r="2.20" fill="#000"/>
<circle cx="315.32" cy="563.90" r="2.20" fill="#000"/>
<circle cx="321.66" cy="563.90" r="2.20" fill="#000"/>
<circle cx="328.00" cy="563.90" r="2.20" fill="#000"/>
<circle cx="334.34" cy="563.90" r="2.20" fill="#000"/>
<circle cx="340.68" cy="563.90" r="2.20" fill="#000"/>
<circle cx="232.90" cy="570.20" r="2.20" fill="#000"/>
<circle cx="239.24" cy="570.20" r="2.00" fill="#fff" stroke="#5e5e5e" stroke-width="0.85"/>
<circle cx="245.58" cy="570.20" r="2.00" fill="#fff" stroke="#5e5e5e" stroke-width="0.85"/>
<circle cx="251.92" cy="570.20" r="2.20" fill="#000"/>
<circle cx="258.26" cy="570.20" r="2.20" fill="#000"/>
<circle cx="264.60" cy="570.20" r="2.20" fill="#000"/>
<circle cx="270.94" cy="570.20" r="2.20" fill="#000"/>
<circle cx="277.28" cy="570.20" r="2.20" fill="#000"/>
<circle cx="283.62" cy="570.20" r="2.20" fill="#000"/>
<circle cx="289.96" cy="570.20" r="2.20" fill="#000"/>
<circle cx="296.30" cy="570.20" r="2.20" fill="#000"/>
<circle cx="302.64" cy="570.20" r="2.20" fill="#000"/>
<circle cx="308.98" cy="570.20" r="2.20" fill="#000"/>
<circle cx="315.32" cy="570.20" r="2.20" fill="#000"/>
<circle cx="321.66" cy="570.20" r="2.20" fill="#000"/>
<circle cx="328.00" cy="570.20" r="2.20" fill="#000"/>
<circle cx="334.34" cy="570.20" r="2.20" fill="#000"/>
<circle cx="340.68" cy="570.20" r="2.20" fill="#000"/>
<rect x="229.2" y="579.2" width="115.40" height="18.50" fill="#fff" stroke="#4a4a4a" stroke-width="0.9"/>
<circle cx="232.90" cy="582.70" r="2.00" fill="#fff" stroke="#5e5e5e" stroke-width="0.85"/>
<circle cx="239.24" cy="582.70" r="2.00" fill="#fff" stroke="#5e5e5e" stroke-width="0.85"/>
<circle cx="245.58" cy="582.70" r="2.00" fill="#fff" stroke="#5e5e5e" stroke-width="0.85"/>
<circle cx="251.92" cy="582.70" r="2.20" fill="#000"/>
<circle cx="258.26" cy="582.70" r="2.20" fill="#000"/>
<path d="M263.27 581.37L265.93 584.03M265.93 581.37L263.27 584.03" stroke="#666" stroke-width="0.6"/>
<circle cx="270.94" cy="582.70" r="2.20" fill="#000"/>
<circle cx="277.28" cy="582.70" r="2.20" fill="#000"/>
<circle cx="283.62" cy="582.70" r="2.20" fill="#000"/>
<circle cx="289.96" cy="582.70" r="2.20" fill="#000"/>
<circle cx="296.30" cy="582.70" r="2.00" fill="#fff" stroke="#5e5e5e" stroke-width="0.85"/>
<circle cx="302.64" cy="582.70" r="2.20" fill="#000"/>
<circle cx="308.98" cy="582.70" r="2.20" fill="#000"/>
<circle cx="315.32" cy="582.70" r="2.20" fill="#000"/>
<circle cx="321.66" cy="582.70" r="2.20" fill="#000"/>
<circle cx="328.00" cy="582.70" r="2.20" fill="#000"/>
<circle cx="334.34" cy="582.70" r="2.20" fill="#000"/>
<circle cx="340.68" cy="582.70" r="2.20" fill="#000"/>
<circle cx="232.90" cy="588.45" r="2.00" fill="#fff" stroke="#5e5e5e" stroke-width="0.85"/>
<circle cx="239.24" cy="588.45" r="2.00" fill="#fff" stroke="#5e5e5e" stroke-width="0.85"/>
<circle cx="245.58" cy="588.45" r="2.00" fill="#fff" stroke="#5e5e5e" stroke-width="0.85"/>
<circle cx="251.92" cy="588.45" r="2.20" fill="#000"/>
<circle cx="258.26" cy="588.45" r="2.20" fill="#000"/>
<circle cx="264.60" cy="588.45" r="2.20" fill="#000"/>
<circle cx="270.94" cy="588.45" r="2.20" fill="#000"/>
<circle cx="277.28" cy="588.45" r="2.20" fill="#000"/>
<circle cx="283.62" cy="588.45" r="2.20" fill="#000"/>
<circle cx="289.96" cy="588.45" r="2.20" fill="#000"/>
<circle cx="296.30" cy="588.45" r="2.20" fill="#000"/>
<circle cx="302.64" cy="588.45" r="2.20" fill="#000"/>
<circle cx="308.98" cy="588.45" r="2.20" fill="#000"/>
<circle cx="315.32" cy="588.45" r="2.20" fill="#000"/>
<circle cx="321.66" cy="588.45" r="2.20" fill="#000"/>
<circle cx="328.00" cy="588.45" r="2.20" fill="#000"/>
<circle cx="334.34" cy="588.45" r="2.20" fill="#000"/>
<circle cx="340.68" cy="588.45" r="2.20" fill="#000"/>
<circle cx="232.90" cy="594.20" r="2.00" fill="#fff" stroke="#5e5e5e" stroke-width="0.85"/>
<circle cx="239.24" cy="594.20" r="2.20" fill="#000"/>
<circle cx="245.58" cy="594.20" r="2.20" fill="#000"/>
<circle cx="251.92" cy="594.20" r="2.20" fill="#000"/>
<circle cx="258.26" cy="594.20" r="2.20" fill="#000"/>
<circle cx="264.60" cy="594.20" r="2.20" fill="#000"/>
<circle cx="270.94" cy="594.20" r="2.20" fill="#000"/>
<circle cx="277.28" cy="594.20" r="2.20" fill="#000"/>
<circle cx="283.62" cy="594.20" r="2.20" fill="#000"/>
<circle cx="289.96" cy="594.20" r="2.20" fill="#000"/>
<circle cx="296.30" cy="594.20" r="2.20" fill="#000"/>
<circle cx="302.64" cy="594.20" r="2.20" fill="#000"/>
<circle cx="308.98" cy="594.20" r="2.20" fill="#000"/>
<circle cx="315.32" cy="594.20" r="2.20" fill="#000"/>
<circle cx="321.66" cy="594.20" r="2.20" fill="#000"/>
<circle cx="328.00" cy="594.20" r="2.20" fill="#000"/>
<circle cx="334.34" cy="594.20" r="2.20" fill="#000"/>
<circle cx="340.68" cy="594.20" r="2.20" fill="#000"/>
<rect x="229.2" y="604.2" width="115.40" height="19.00" fill="#fff" stroke="#4a4a4a" stroke-width="0.9"/>
<circle cx="232.90" cy="607.70" r="2.00" fill="#fff" stroke="#5e5e5e" stroke-width="0.85"/>
<circle cx="239.24" cy="607.70" r="2.00" fill="#fff" stroke="#5e5e5e" stroke-width="0.85"/>
<circle cx="245.58" cy="607.70" r="2.00" fill="#fff" stroke="#5e5e5e" stroke-width="0.85"/>
<circle cx="251.92" cy="607.70" r="2.20" fill="#000"/>
<circle cx="258.26" cy="607.70" r="2.20" fill="#000"/>
<path d="M263.27 606.37L265.93 609.03M265.93 606.37L263.27 609.03" stroke="#666" stroke-width="0.6"/>
<path d="M269.61 606.37L272.27 609.03M272.27 606.37L269.61 609.03" stroke="#666" stroke-width="0.6"/>
<circle cx="277.28" cy="607.70" r="2.00" fill="#fff" stroke="#5e5e5e" stroke-width="0.85"/>
<circle cx="283.62" cy="607.70" r="2.20" fill="#000"/>
<circle cx="289.96" cy="607.70" r="2.20" fill="#000"/>
<circle cx="296.30" cy="607.70" r="2.20" fill="#000"/>
<circle cx="302.64" cy="607.70" r="2.20" fill="#000"/>
<circle cx="308.98" cy="607.70" r="2.20" fill="#000"/>
<circle cx="315.32" cy="607.70" r="2.20" fill="#000"/>
<circle cx="321.66" cy="607.70" r="2.20" fill="#000"/>
<circle cx="328.00" cy="607.70" r="2.20" fill="#000"/>
<circle cx="334.34" cy="607.70" r="2.00" fill="#fff" stroke="#5e5e5e" stroke-width="0.85"/>
<circle cx="340.68" cy="607.70" r="2.00" fill="#fff" stroke="#5e5e5e" stroke-width="0.85"/>
<circle cx="232.90" cy="613.70" r="2.00" fill="#fff" stroke="#5e5e5e" stroke-width="0.85"/>
<circle cx="239.24" cy="613.70" r="2.00" fill="#fff" stroke="#5e5e5e" stroke-width="0.85"/>
<circle cx="245.58" cy="613.70" r="2.00" fill="#fff" stroke="#5e5e5e" stroke-width="0.85"/>
<circle cx="251.92" cy="613.70" r="2.20" fill="#000"/>
<circle cx="258.26" cy="613.70" r="2.20" fill="#000"/>
<path d="M263.27 612.37L265.93 615.03M265.93 612.37L263.27 615.03" stroke="#666" stroke-width="0.6"/>
<path d="M269.61 612.37L272.27 615.03M272.27 612.37L269.61 615.03" stroke="#666" stroke-width="0.6"/>
<circle cx="277.28" cy="613.70" r="2.00" fill="#fff" stroke="#5e5e5e" stroke-width="0.85"/>
<circle cx="283.62" cy="613.70" r="2.20" fill="#000"/>
<circle cx="289.96" cy="613.70" r="2.20" fill="#000"/>
<circle cx="296.30" cy="613.70" r="2.20" fill="#000"/>
<circle cx="302.64" cy="613.70" r="2.20" fill="#000"/>
<circle cx="308.98" cy="613.70" r="2.20" fill="#000"/>
<circle cx="315.32" cy="613.70" r="2.20" fill="#000"/>
<circle cx="321.66" cy="613.70" r="2.20" fill="#000"/>
<circle cx="328.00" cy="613.70" r="2.20" fill="#000"/>
<circle cx="334.34" cy="613.70" r="2.00" fill="#fff" stroke="#5e5e5e" stroke-width="0.85"/>
<circle cx="340.68" cy="613.70" r="2.00" fill="#fff" stroke="#5e5e5e" stroke-width="0.85"/>
<circle cx="232.90" cy="619.70" r="2.00" fill="#fff" stroke="#5e5e5e" stroke-width="0.85"/>
<circle cx="239.24" cy="619.70" r="2.00" fill="#fff" stroke="#5e5e5e" stroke-width="0.85"/>
<circle cx="245.58" cy="619.70" r="2.00" fill="#fff" stroke="#5e5e5e" stroke-width="0.85"/>
<circle cx="251.92" cy="619.70" r="2.20" fill="#000"/>
<circle cx="258.26" cy="619.70" r="2.20" fill="#000"/>
<circle cx="264.60" cy="619.70" r="2.20" fill="#000"/>
<path d="M269.61 618.37L272.27 621.03M272.27 618.37L269.61 621.03" stroke="#666" stroke-width="0.6"/>
<circle cx="277.28" cy="619.70" r="2.00" fill="#fff" stroke="#5e5e5e" stroke-width="0.85"/>
<circle cx="283.62" cy="619.70" r="2.20" fill="#000"/>
<circle cx="289.96" cy="619.70" r="2.20" fill="#000"/>
<circle cx="296.30" cy="619.70" r="2.20" fill="#000"/>
<circle cx="302.64" cy="619.70" r="2.20" fill="#000"/>
<circle cx="308.98" cy="619.70" r="2.20" fill="#000"/>
<circle cx="315.32" cy="619.70" r="2.20" fill="#000"/>
<circle cx="321.66" cy="619.70" r="2.20" fill="#000"/>
<circle cx="328.00" cy="619.70" r="2.20" fill="#000"/>
<circle cx="334.34" cy="619.70" r="2.00" fill="#fff" stroke="#5e5e5e" stroke-width="0.85"/>
<circle cx="340.68" cy="619.70" r="2.00" fill="#fff" stroke="#5e5e5e" stroke-width="0.85"/>
<rect x="229.2" y="629.6" width="115.40" height="18.90" fill="#fff" stroke="#4a4a4a" stroke-width="0.9"/>
<circle cx="232.90" cy="633.10" r="2.00" fill="#fff" stroke="#5e5e5e" stroke-width="0.85"/>
<circle cx="239.24" cy="633.10" r="2.00" fill="#fff" stroke="#5e5e5e" stroke-width="0.85"/>
<circle cx="245.58" cy="633.10" r="2.00" fill="#fff" stroke="#5e5e5e" stroke-width="0.85"/>
<circle cx="251.92" cy="633.10" r="2.20" fill="#000"/>
<circle cx="258.26" cy="633.10" r="2.20" fill="#000"/>
<circle cx="264.60" cy="633.10" r="2.20" fill="#000"/>
<circle cx="270.94" cy="633.10" r="2.20" fill="#000"/>
<circle cx="277.28" cy="633.10" r="2.00" fill="#fff" stroke="#5e5e5e" stroke-width="0.85"/>
<circle cx="283.62" cy="633.10" r="2.20" fill="#000"/>
<circle cx="289.96" cy="633.10" r="2.20" fill="#000"/>
<circle cx="296.30" cy="633.10" r="2.20" fill="#000"/>
<circle cx="302.64" cy="633.10" r="2.20" fill="#000"/>
<circle cx="308.98" cy="633.10" r="2.20" fill="#000"/>
<circle cx="315.32" cy="633.10" r="2.20" fill="#000"/>
<circle cx="321.66" cy="633.10" r="2.20" fill="#000"/>
<circle cx="328.00" cy="633.10" r="2.20" fill="#000"/>
<circle cx="334.34" cy="633.10" r="2.00" fill="#fff" stroke="#5e5e5e" stroke-width="0.85"/>
<circle cx="340.68" cy="633.10" r="2.00" fill="#fff" stroke="#5e5e5e" stroke-width="0.85"/>
<circle cx="232.90" cy="639.05" r="2.00" fill="#fff" stroke="#5e5e5e" stroke-width="0.85"/>
<circle cx="239.24" cy="639.05" r="2.00" fill="#fff" stroke="#5e5e5e" stroke-width="0.85"/>
<circle cx="245.58" cy="639.05" r="2.00" fill="#fff" stroke="#5e5e5e" stroke-width="0.85"/>
<circle cx="251.92" cy="639.05" r="2.20" fill="#000"/>
<circle cx="258.26" cy="639.05" r="2.20" fill="#000"/>
<circle cx="264.60" cy="639.05" r="2.20" fill="#000"/>
<circle cx="270.94" cy="639.05" r="2.20" fill="#000"/>
<circle cx="277.28" cy="639.05" r="2.00" fill="#fff" stroke="#5e5e5e" stroke-width="0.85"/>
<circle cx="283.62" cy="639.05" r="2.20" fill="#000"/>
<circle cx="289.96" cy="639.05" r="2.20" fill="#000"/>
<circle cx="296.30" cy="639.05" r="2.20" fill="#000"/>
<circle cx="302.64" cy="639.05" r="2.20" fill="#000"/>
<circle cx="308.98" cy="639.05" r="2.20" fill="#000"/>
<circle cx="315.32" cy="639.05" r="2.20" fill="#000"/>
<circle cx="321.66" cy="639.05" r="2.20" fill="#000"/>
<circle cx="328.00" cy="639.05" r="2.20" fill="#000"/>
<circle cx="334.34" cy="639.05" r="2.00" fill="#fff" stroke="#5e5e5e" stroke-width="0.85"/>
<circle cx="340.68" cy="639.05" r="2.00" fill="#fff" stroke="#5e5e5e" stroke-width="0.85"/>
<circle cx="232.90" cy="645.00" r="2.00" fill="#fff" stroke="#5e5e5e" stroke-width="0.85"/>
<circle cx="239.24" cy="645.00" r="2.00" fill="#fff" stroke="#5e5e5e" stroke-width="0.85"/>
<circle cx="245.58" cy="645.00" r="2.00" fill="#fff" stroke="#5e5e5e" stroke-width="0.85"/>
<circle cx="251.92" cy="645.00" r="2.20" fill="#000"/>
<circle cx="258.26" cy="645.00" r="2.20" fill="#000"/>
<circle cx="264.60" cy="645.00" r="2.20" fill="#000"/>
<circle cx="270.94" cy="645.00" r="2.20" fill="#000"/>
<circle cx="277.28" cy="645.00" r="2.00" fill="#fff" stroke="#5e5e5e" stroke-width="0.85"/>
<circle cx="283.62" cy="645.00" r="2.20" fill="#000"/>
<circle cx="289.96" cy="645.00" r="2.20" fill="#000"/>
<circle cx="296.30" cy="645.00" r="2.20" fill="#000"/>
<circle cx="302.64" cy="645.00" r="2.20" fill="#000"/>
<circle cx="308.98" cy="645.00" r="2.20" fill="#000"/>
<circle cx="315.32" cy="645.00" r="2.20" fill="#000"/>
<circle cx="321.66" cy="645.00" r="2.20" fill="#000"/>
<circle cx="328.00" cy="645.00" r="2.20" fill="#000"/>
<circle cx="334.34" cy="645.00" r="2.00" fill="#fff" stroke="#5e5e5e" stroke-width="0.85"/>
<circle cx="340.68" cy="645.00" r="2.00" fill="#fff" stroke="#5e5e5e" stroke-width="0.85"/>
<rect x="350.4" y="554.3" width="99.90" height="19.20" fill="#fff" stroke="#4a4a4a" stroke-width="0.9"/>
<circle cx="354.30" cy="557.80" r="2.00" fill="#fff" stroke="#5e5e5e" stroke-width="0.85"/>
<circle cx="360.44" cy="557.80" r="2.00" fill="#fff" stroke="#5e5e5e" stroke-width="0.85"/>
<circle cx="366.58" cy="557.80" r="2.00" fill="#fff" stroke="#5e5e5e" stroke-width="0.85"/>
<circle cx="372.72" cy="557.80" r="2.00" fill="#fff" stroke="#5e5e5e" stroke-width="0.85"/>
<circle cx="378.86" cy="557.80" r="2.00" fill="#fff" stroke="#5e5e5e" stroke-width="0.85"/>
<circle cx="385.00" cy="557.80" r="2.00" fill="#fff" stroke="#5e5e5e" stroke-width="0.85"/>
<circle cx="391.14" cy="557.80" r="2.00" fill="#fff" stroke="#5e5e5e" stroke-width="0.85"/>
<circle cx="397.28" cy="557.80" r="2.00" fill="#fff" stroke="#5e5e5e" stroke-width="0.85"/>
<circle cx="403.42" cy="557.80" r="2.00" fill="#fff" stroke="#5e5e5e" stroke-width="0.85"/>
<circle cx="409.56" cy="557.80" r="2.00" fill="#fff" stroke="#5e5e5e" stroke-width="0.85"/>
<circle cx="415.70" cy="557.80" r="2.00" fill="#fff" stroke="#5e5e5e" stroke-width="0.85"/>
<circle cx="421.84" cy="557.80" r="2.00" fill="#fff" stroke="#5e5e5e" stroke-width="0.85"/>
<circle cx="427.98" cy="557.80" r="2.00" fill="#fff" stroke="#5e5e5e" stroke-width="0.85"/>
<circle cx="434.12" cy="557.80" r="2.00" fill="#fff" stroke="#5e5e5e" stroke-width="0.85"/>
<circle cx="440.26" cy="557.80" r="2.00" fill="#fff" stroke="#5e5e5e" stroke-width="0.85"/>
<circle cx="446.40" cy="557.80" r="2.00" fill="#fff" stroke="#5e5e5e" stroke-width="0.85"/>
<circle cx="354.30" cy="563.90" r="2.00" fill="#fff" stroke="#5e5e5e" stroke-width="0.85"/>
<circle cx="360.44" cy="563.90" r="2.00" fill="#fff" stroke="#5e5e5e" stroke-width="0.85"/>
<circle cx="366.58" cy="563.90" r="2.00" fill="#fff" stroke="#5e5e5e" stroke-width="0.85"/>
<circle cx="372.72" cy="563.90" r="2.00" fill="#fff" stroke="#5e5e5e" stroke-width="0.85"/>
<circle cx="378.86" cy="563.90" r="2.00" fill="#fff" stroke="#5e5e5e" stroke-width="0.85"/>
<circle cx="385.00" cy="563.90" r="2.00" fill="#fff" stroke="#5e5e5e" stroke-width="0.85"/>
<circle cx="391.14" cy="563.90" r="2.00" fill="#fff" stroke="#5e5e5e" stroke-width="0.85"/>
<circle cx="397.28" cy="563.90" r="2.00" fill="#fff" stroke="#5e5e5e" stroke-width="0.85"/>
<circle cx="403.42" cy="563.90" r="2.00" fill="#fff" stroke="#5e5e5e" stroke-width="0.85"/>
<circle cx="409.56" cy="563.90" r="2.00" fill="#fff" stroke="#5e5e5e" stroke-width="0.85"/>
<circle cx="415.70" cy="563.90" r="2.00" fill="#fff" stroke="#5e5e5e" stroke-width="0.85"/>
<circle cx="421.84" cy="563.90" r="2.00" fill="#fff" stroke="#5e5e5e" stroke-width="0.85"/>
<circle cx="427.98" cy="563.90" r="2.00" fill="#fff" stroke="#5e5e5e" stroke-width="0.85"/>
<circle cx="434.12" cy="563.90" r="2.00" fill="#fff" stroke="#5e5e5e" stroke-width="0.85"/>
<circle cx="440.26" cy="563.90" r="2.00" fill="#fff" stroke="#5e5e5e" stroke-width="0.85"/>
<circle cx="446.40" cy="563.90" r="2.00" fill="#fff" stroke="#5e5e5e" stroke-width="0.85"/>
<circle cx="354.30" cy="570.00" r="2.00" fill="#fff" stroke="#5e5e5e" stroke-width="0.85"/>
<circle cx="360.44" cy="570.00" r="2.00" fill="#fff" stroke="#5e5e5e" stroke-width="0.85"/>
<circle cx="366.58" cy="570.00" r="2.00" fill="#fff" stroke="#5e5e5e" stroke-width="0.85"/>
<circle cx="372.72" cy="570.00" r="2.00" fill="#fff" stroke="#5e5e5e" stroke-width="0.85"/>
<circle cx="378.86" cy="570.00" r="2.00" fill="#fff" stroke="#5e5e5e" stroke-width="0.85"/>
<circle cx="385.00" cy="570.00" r="2.00" fill="#fff" stroke="#5e5e5e" stroke-width="0.85"/>
<circle cx="391.14" cy="570.00" r="2.00" fill="#fff" stroke="#5e5e5e" stroke-width="0.85"/>
<circle cx="397.28" cy="570.00" r="2.00" fill="#fff" stroke="#5e5e5e" stroke-width="0.85"/>
<circle cx="403.42" cy="570.00" r="2.00" fill="#fff" stroke="#5e5e5e" stroke-width="0.85"/>
<circle cx="409.56" cy="570.00" r="2.00" fill="#fff" stroke="#5e5e5e" stroke-width="0.85"/>
<circle cx="415.70" cy="570.00" r="2.00" fill="#fff" stroke="#5e5e5e" stroke-width="0.85"/>
<circle cx="421.84" cy="570.00" r="2.00" fill="#fff" stroke="#5e5e5e" stroke-width="0.85"/>
<circle cx="427.98" cy="570.00" r="2.00" fill="#fff" stroke="#5e5e5e" stroke-width="0.85"/>
<circle cx="434.12" cy="570.00" r="2.00" fill="#fff" stroke="#5e5e5e" stroke-width="0.85"/>
<circle cx="440.26" cy="570.00" r="2.00" fill="#fff" stroke="#5e5e5e" stroke-width="0.85"/>
<circle cx="446.40" cy="570.00" r="2.00" fill="#fff" stroke="#5e5e5e" stroke-width="0.85"/>
<rect x="350.4" y="579.7" width="99.90" height="18.50" fill="#fff" stroke="#4a4a4a" stroke-width="0.9"/>
<circle cx="354.30" cy="583.20" r="2.00" fill="#fff" stroke="#5e5e5e" stroke-width="0.85"/>
<circle cx="360.44" cy="583.20" r="2.20" fill="#000"/>
<circle cx="366.58" cy="583.20" r="2.20" fill="#000"/>
<circle cx="372.72" cy="583.20" r="2.20" fill="#000"/>
<circle cx="378.86" cy="583.20" r="2.20" fill="#000"/>
<circle cx="385.00" cy="583.20" r="2.20" fill="#000"/>
<circle cx="391.14" cy="583.20" r="2.20" fill="#000"/>
<circle cx="397.28" cy="583.20" r="2.20" fill="#000"/>
<circle cx="403.42" cy="583.20" r="2.20" fill="#000"/>
<circle cx="409.56" cy="583.20" r="2.20" fill="#000"/>
<circle cx="415.70" cy="583.20" r="2.00" fill="#fff" stroke="#5e5e5e" stroke-width="0.85"/>
<circle cx="421.84" cy="583.20" r="2.20" fill="#000"/>
<circle cx="427.98" cy="583.20" r="2.20" fill="#000"/>
<circle cx="434.12" cy="583.20" r="2.20" fill="#000"/>
<circle cx="440.26" cy="583.20" r="2.20" fill="#000"/>
<circle cx="446.40" cy="583.20" r="2.20" fill="#000"/>
<circle cx="354.30" cy="588.95" r="2.00" fill="#fff" stroke="#5e5e5e" stroke-width="0.85"/>
<circle cx="360.44" cy="588.95" r="2.20" fill="#000"/>
<circle cx="366.58" cy="588.95" r="2.20" fill="#000"/>
<circle cx="372.72" cy="588.95" r="2.20" fill="#000"/>
<circle cx="378.86" cy="588.95" r="2.20" fill="#000"/>
<circle cx="385.00" cy="588.95" r="2.20" fill="#000"/>
<circle cx="391.14" cy="588.95" r="2.20" fill="#000"/>
<circle cx="397.28" cy="588.95" r="2.20" fill="#000"/>
<circle cx="403.42" cy="588.95" r="2.20" fill="#000"/>
<circle cx="409.56" cy="588.95" r="2.20" fill="#000"/>
<circle cx="415.70" cy="588.95" r="2.20" fill="#000"/>
<circle cx="421.84" cy="588.95" r="2.20" fill="#000"/>
<circle cx="427.98" cy="588.95" r="2.20" fill="#000"/>
<circle cx="434.12" cy="588.95" r="2.20" fill="#000"/>
<circle cx="440.26" cy="588.95" r="2.20" fill="#000"/>
<circle cx="446.40" cy="588.95" r="2.20" fill="#000"/>
<circle cx="354.30" cy="594.70" r="2.20" fill="#000"/>
<circle cx="360.44" cy="594.70" r="2.20" fill="#000"/>
<circle cx="366.58" cy="594.70" r="2.00" fill="#fff" stroke="#5e5e5e" stroke-width="0.85"/>
<circle cx="372.72" cy="594.70" r="2.20" fill="#000"/>
<circle cx="378.86" cy="594.70" r="2.20" fill="#000"/>
<circle cx="385.00" cy="594.70" r="2.20" fill="#000"/>
<circle cx="391.14" cy="594.70" r="2.20" fill="#000"/>
<circle cx="397.28" cy="594.70" r="2.20" fill="#000"/>
<circle cx="403.42" cy="594.70" r="2.20" fill="#000"/>
<circle cx="409.56" cy="594.70" r="2.20" fill="#000"/>
<circle cx="415.70" cy="594.70" r="2.20" fill="#000"/>
<circle cx="421.84" cy="594.70" r="2.20" fill="#000"/>
<circle cx="427.98" cy="594.70" r="2.20" fill="#000"/>
<circle cx="434.12" cy="594.70" r="2.20" fill="#000"/>
<circle cx="440.26" cy="594.70" r="2.20" fill="#000"/>
<circle cx="446.40" cy="594.70" r="2.20" fill="#000"/>
<rect x="350.4" y="607.0" width="99.90" height="13.40" fill="#fff" stroke="#4a4a4a" stroke-width="0.9"/>
<circle cx="354.30" cy="610.50" r="2.20" fill="#000"/>
<circle cx="360.44" cy="610.50" r="2.20" fill="#000"/>
<circle cx="366.58" cy="610.50" r="2.20" fill="#000"/>
<circle cx="372.72" cy="610.50" r="2.20" fill="#000"/>
<circle cx="378.86" cy="610.50" r="2.20" fill="#000"/>
<circle cx="385.00" cy="610.50" r="2.20" fill="#000"/>
<circle cx="391.14" cy="610.50" r="2.20" fill="#000"/>
<circle cx="397.28" cy="610.50" r="2.20" fill="#000"/>
<circle cx="403.42" cy="610.50" r="2.20" fill="#000"/>
<circle cx="409.56" cy="610.50" r="2.20" fill="#000"/>
<circle cx="415.70" cy="610.50" r="2.20" fill="#000"/>
<circle cx="421.84" cy="610.50" r="2.20" fill="#000"/>
<circle cx="427.98" cy="610.50" r="2.20" fill="#000"/>
<circle cx="434.12" cy="610.50" r="2.20" fill="#000"/>
<circle cx="440.26" cy="610.50" r="2.20" fill="#000"/>
<circle cx="446.40" cy="610.50" r="2.20" fill="#000"/>
<circle cx="354.30" cy="616.90" r="2.20" fill="#000"/>
<circle cx="360.44" cy="616.90" r="2.20" fill="#000"/>
<circle cx="366.58" cy="616.90" r="2.20" fill="#000"/>
<circle cx="372.72" cy="616.90" r="2.20" fill="#000"/>
<circle cx="378.86" cy="616.90" r="2.20" fill="#000"/>
<circle cx="385.00" cy="616.90" r="2.20" fill="#000"/>
<circle cx="391.14" cy="616.90" r="2.00" fill="#fff" stroke="#5e5e5e" stroke-width="0.85"/>
<circle cx="397.28" cy="616.90" r="2.20" fill="#000"/>
<circle cx="403.42" cy="616.90" r="2.20" fill="#000"/>
<circle cx="409.56" cy="616.90" r="2.20" fill="#000"/>
<circle cx="415.70" cy="616.90" r="2.20" fill="#000"/>
<circle cx="421.84" cy="616.90" r="2.20" fill="#000"/>
<circle cx="427.98" cy="616.90" r="2.20" fill="#000"/>
<circle cx="434.12" cy="616.90" r="2.20" fill="#000"/>
<circle cx="440.26" cy="616.90" r="2.20" fill="#000"/>
<circle cx="446.40" cy="616.90" r="2.20" fill="#000"/>
<rect x="350.4" y="629.2" width="99.90" height="19.30" fill="#fff" stroke="#4a4a4a" stroke-width="0.9"/>
<circle cx="354.30" cy="632.70" r="2.20" fill="#000"/>
<circle cx="360.44" cy="632.70" r="2.20" fill="#000"/>
<circle cx="366.58" cy="632.70" r="2.00" fill="#fff" stroke="#5e5e5e" stroke-width="0.85"/>
<circle cx="372.72" cy="632.70" r="2.20" fill="#000"/>
<circle cx="378.86" cy="632.70" r="2.20" fill="#000"/>
<circle cx="385.00" cy="632.70" r="2.20" fill="#000"/>
<circle cx="391.14" cy="632.70" r="2.20" fill="#000"/>
<circle cx="397.28" cy="632.70" r="2.20" fill="#000"/>
<circle cx="403.42" cy="632.70" r="2.20" fill="#000"/>
<circle cx="409.56" cy="632.70" r="2.20" fill="#000"/>
<circle cx="415.70" cy="632.70" r="2.20" fill="#000"/>
<circle cx="421.84" cy="632.70" r="2.20" fill="#000"/>
<circle cx="427.98" cy="632.70" r="2.20" fill="#000"/>
<circle cx="434.12" cy="632.70" r="2.20" fill="#000"/>
<circle cx="440.26" cy="632.70" r="2.20" fill="#000"/>
<circle cx="446.40" cy="632.70" r="2.20" fill="#000"/>
<circle cx="354.30" cy="638.85" r="2.00" fill="#fff" stroke="#5e5e5e" stroke-width="0.85"/>
<circle cx="360.44" cy="638.85" r="2.00" fill="#fff" stroke="#5e5e5e" stroke-width="0.85"/>
<circle cx="366.58" cy="638.85" r="2.00" fill="#fff" stroke="#5e5e5e" stroke-width="0.85"/>
<circle cx="372.72" cy="638.85" r="2.20" fill="#000"/>
<circle cx="378.86" cy="638.85" r="2.00" fill="#fff" stroke="#5e5e5e" stroke-width="0.85"/>
<circle cx="385.00" cy="638.85" r="2.20" fill="#000"/>
<circle cx="391.14" cy="638.85" r="2.20" fill="#000"/>
<circle cx="397.28" cy="638.85" r="2.20" fill="#000"/>
<circle cx="403.42" cy="638.85" r="2.20" fill="#000"/>
<circle cx="409.56" cy="638.85" r="2.00" fill="#fff" stroke="#5e5e5e" stroke-width="0.85"/>
<circle cx="415.70" cy="638.85" r="2.20" fill="#000"/>
<circle cx="421.84" cy="638.85" r="2.20" fill="#000"/>
<circle cx="427.98" cy="638.85" r="2.20" fill="#000"/>
<circle cx="434.12" cy="638.85" r="2.20" fill="#000"/>
<circle cx="440.26" cy="638.85" r="2.20" fill="#000"/>
<circle cx="446.40" cy="638.85" r="2.20" fill="#000"/>
<circle cx="354.30" cy="645.00" r="2.20" fill="#000"/>
<circle cx="360.44" cy="645.00" r="2.20" fill="#000"/>
<circle cx="366.58" cy="645.00" r="2.20" fill="#000"/>
<circle cx="372.72" cy="645.00" r="2.20" fill="#000"/>
<circle cx="378.86" cy="645.00" r="2.20" fill="#000"/>
<circle cx="385.00" cy="645.00" r="2.20" fill="#000"/>
<circle cx="391.14" cy="645.00" r="2.00" fill="#fff" stroke="#5e5e5e" stroke-width="0.85"/>
<circle cx="397.28" cy="645.00" r="2.20" fill="#000"/>
<circle cx="403.42" cy="645.00" r="2.20" fill="#000"/>
<circle cx="409.56" cy="645.00" r="2.20" fill="#000"/>
<circle cx="415.70" cy="645.00" r="2.20" fill="#000"/>
<circle cx="421.84" cy="645.00" r="2.20" fill="#000"/>
<circle cx="427.98" cy="645.00" r="2.20" fill="#000"/>
<circle cx="434.12" cy="645.00" r="2.20" fill="#000"/>
<circle cx="440.26" cy="645.00" r="2.20" fill="#000"/>
<circle cx="446.40" cy="645.00" r="2.20" fill="#000"/>
<rect x="464.1" y="556.4" width="48.50" height="14.30" fill="#fff" stroke="#4a4a4a" stroke-width="0.9"/>
<circle cx="467.80" cy="560.50" r="2.40" fill="#fff" stroke="#5e5e5e" stroke-width="0.85"/>
<circle cx="474.70" cy="560.50" r="2.40" fill="#fff" stroke="#5e5e5e" stroke-width="0.85"/>
<circle cx="481.60" cy="560.50" r="2.40" fill="#fff" stroke="#5e5e5e" stroke-width="0.85"/>
<circle cx="488.50" cy="560.50" r="2.40" fill="#fff" stroke="#5e5e5e" stroke-width="0.85"/>
<circle cx="495.40" cy="560.50" r="2.40" fill="#fff" stroke="#5e5e5e" stroke-width="0.85"/>
<circle cx="502.00" cy="560.50" r="2.40" fill="#fff" stroke="#5e5e5e" stroke-width="0.85"/>
<path d="M507.21 558.91L510.39 562.09M510.39 558.91L507.21 562.09" stroke="#666" stroke-width="0.6"/>
<circle cx="467.80" cy="566.90" r="2.40" fill="#fff" stroke="#5e5e5e" stroke-width="0.85"/>
<circle cx="474.70" cy="566.90" r="2.40" fill="#fff" stroke="#5e5e5e" stroke-width="0.85"/>
<circle cx="481.60" cy="566.90" r="2.40" fill="#fff" stroke="#5e5e5e" stroke-width="0.85"/>
<circle cx="488.50" cy="566.90" r="2.60" fill="#000"/>
<circle cx="495.40" cy="566.90" r="2.40" fill="#fff" stroke="#5e5e5e" stroke-width="0.85"/>
<circle cx="502.00" cy="566.90" r="2.40" fill="#fff" stroke="#5e5e5e" stroke-width="0.85"/>
<circle cx="508.80" cy="566.90" r="2.60" fill="#000"/>
<rect x="464.1" y="578.4" width="48.50" height="20.60" fill="#fff" stroke="#4a4a4a" stroke-width="0.9"/>
<circle cx="467.80" cy="582.10" r="2.60" fill="#000"/>
<circle cx="474.70" cy="582.10" r="2.60" fill="#000"/>
<circle cx="481.60" cy="582.10" r="2.40" fill="#fff" stroke="#5e5e5e" stroke-width="0.85"/>
<circle cx="488.50" cy="582.10" r="2.60" fill="#000"/>
<circle cx="495.40" cy="582.10" r="2.60" fill="#000"/>
<circle cx="502.00" cy="582.10" r="2.60" fill="#000"/>
<circle cx="508.80" cy="582.10" r="2.60" fill="#000"/>
<circle cx="467.80" cy="588.70" r="2.60" fill="#000"/>
<circle cx="474.70" cy="588.70" r="2.60" fill="#000"/>
<circle cx="481.60" cy="588.70" r="2.40" fill="#fff" stroke="#5e5e5e" stroke-width="0.85"/>
<circle cx="488.50" cy="588.70" r="2.60" fill="#000"/>
<circle cx="495.40" cy="588.70" r="2.60" fill="#000"/>
<circle cx="502.00" cy="588.70" r="2.60" fill="#000"/>
<circle cx="508.80" cy="588.70" r="2.60" fill="#000"/>
<circle cx="467.80" cy="595.30" r="2.60" fill="#000"/>
<circle cx="474.70" cy="595.30" r="2.60" fill="#000"/>
<circle cx="481.60" cy="595.30" r="2.40" fill="#fff" stroke="#5e5e5e" stroke-width="0.85"/>
<circle cx="488.50" cy="595.30" r="2.60" fill="#000"/>
<circle cx="495.40" cy="595.30" r="2.60" fill="#000"/>
<circle cx="502.00" cy="595.30" r="2.60" fill="#000"/>
<circle cx="508.80" cy="595.30" r="2.60" fill="#000"/>
<rect x="464.1" y="603.3" width="48.50" height="21.00" fill="#fff" stroke="#4a4a4a" stroke-width="0.9"/>
<circle cx="467.80" cy="607.00" r="2.60" fill="#000"/>
<circle cx="474.70" cy="607.00" r="2.60" fill="#000"/>
<circle cx="481.60" cy="607.00" r="2.40" fill="#fff" stroke="#5e5e5e" stroke-width="0.85"/>
<circle cx="488.50" cy="607.00" r="2.60" fill="#000"/>
<circle cx="495.40" cy="607.00" r="2.60" fill="#000"/>
<circle cx="502.00" cy="607.00" r="2.60" fill="#000"/>
<circle cx="508.80" cy="607.00" r="2.60" fill="#000"/>
<circle cx="467.80" cy="613.80" r="2.60" fill="#000"/>
<circle cx="474.70" cy="613.80" r="2.60" fill="#000"/>
<circle cx="481.60" cy="613.80" r="2.40" fill="#fff" stroke="#5e5e5e" stroke-width="0.85"/>
<circle cx="488.50" cy="613.80" r="2.60" fill="#000"/>
<circle cx="495.40" cy="613.80" r="2.60" fill="#000"/>
<circle cx="502.00" cy="613.80" r="2.60" fill="#000"/>
<circle cx="508.80" cy="613.80" r="2.60" fill="#000"/>
<circle cx="467.80" cy="620.60" r="2.60" fill="#000"/>
<circle cx="474.70" cy="620.60" r="2.60" fill="#000"/>
<circle cx="481.60" cy="620.60" r="2.40" fill="#fff" stroke="#5e5e5e" stroke-width="0.85"/>
<circle cx="488.50" cy="620.60" r="2.60" fill="#000"/>
<circle cx="495.40" cy="620.60" r="2.60" fill="#000"/>
<circle cx="502.00" cy="620.60" r="2.60" fill="#000"/>
<circle cx="508.80" cy="620.60" r="2.60" fill="#000"/>
<rect x="464.1" y="628.4" width="48.50" height="21.10" fill="#fff" stroke="#4a4a4a" stroke-width="0.9"/>
<circle cx="467.80" cy="632.10" r="2.60" fill="#000"/>
<circle cx="474.70" cy="632.10" r="2.60" fill="#000"/>
<circle cx="481.60" cy="632.10" r="2.40" fill="#fff" stroke="#5e5e5e" stroke-width="0.85"/>
<circle cx="488.50" cy="632.10" r="2.60" fill="#000"/>
<circle cx="495.40" cy="632.10" r="2.60" fill="#000"/>
<circle cx="502.00" cy="632.10" r="2.60" fill="#000"/>
<circle cx="508.80" cy="632.10" r="2.60" fill="#000"/>
<circle cx="467.80" cy="638.95" r="2.40" fill="#fff" stroke="#5e5e5e" stroke-width="0.85"/>
<circle cx="474.70" cy="638.95" r="2.60" fill="#000"/>
<circle cx="481.60" cy="638.95" r="2.40" fill="#fff" stroke="#5e5e5e" stroke-width="0.85"/>
<circle cx="488.50" cy="638.95" r="2.60" fill="#000"/>
<circle cx="495.40" cy="638.95" r="2.60" fill="#000"/>
<circle cx="502.00" cy="638.95" r="2.60" fill="#000"/>
<circle cx="508.80" cy="638.95" r="2.60" fill="#000"/>
<circle cx="467.80" cy="645.80" r="2.60" fill="#000"/>
<circle cx="474.70" cy="645.80" r="2.40" fill="#fff" stroke="#5e5e5e" stroke-width="0.85"/>
<circle cx="481.60" cy="645.80" r="2.40" fill="#fff" stroke="#5e5e5e" stroke-width="0.85"/>
<circle cx="488.50" cy="645.80" r="2.40" fill="#fff" stroke="#5e5e5e" stroke-width="0.85"/>
<circle cx="495.40" cy="645.80" r="2.40" fill="#fff" stroke="#5e5e5e" stroke-width="0.85"/>
<circle cx="502.00" cy="645.80" r="2.40" fill="#fff" stroke="#5e5e5e" stroke-width="0.85"/>
<circle cx="508.80" cy="645.80" r="2.60" fill="#000"/>
<rect x="102.3" y="558.1" width="123.1" height="11.50" fill="#fff" stroke="#4a4a4a" stroke-width="0.9"/>
<circle cx="104.80" cy="560.70" r="1.1" fill="#fff" stroke="#6a6a6a" stroke-width="0.8"/>
<circle cx="108.16" cy="560.70" r="1.1" fill="#fff" stroke="#6a6a6a" stroke-width="0.8"/>
<circle cx="111.52" cy="560.70" r="1.1" fill="#fff" stroke="#6a6a6a" stroke-width="0.8"/>
<circle cx="114.88" cy="560.70" r="1.1" fill="#fff" stroke="#6a6a6a" stroke-width="0.8"/>
<circle cx="118.24" cy="560.70" r="1.1" fill="#fff" stroke="#6a6a6a" stroke-width="0.8"/>
<circle cx="121.60" cy="560.70" r="1.1" fill="#fff" stroke="#6a6a6a" stroke-width="0.8"/>
<circle cx="124.96" cy="560.70" r="1.1" fill="#fff" stroke="#6a6a6a" stroke-width="0.8"/>
<circle cx="128.32" cy="560.70" r="1.1" fill="#fff" stroke="#6a6a6a" stroke-width="0.8"/>
<circle cx="131.68" cy="560.70" r="1.1" fill="#fff" stroke="#6a6a6a" stroke-width="0.8"/>
<circle cx="135.04" cy="560.70" r="1.1" fill="#fff" stroke="#6a6a6a" stroke-width="0.8"/>
<circle cx="138.40" cy="560.70" r="1.1" fill="#fff" stroke="#6a6a6a" stroke-width="0.8"/>
<circle cx="141.76" cy="560.70" r="1.1" fill="#fff" stroke="#6a6a6a" stroke-width="0.8"/>
<circle cx="145.12" cy="560.70" r="1.1" fill="#fff" stroke="#6a6a6a" stroke-width="0.8"/>
<circle cx="148.48" cy="560.70" r="1.1" fill="#fff" stroke="#6a6a6a" stroke-width="0.8"/>
<circle cx="151.84" cy="560.70" r="1.1" fill="#fff" stroke="#6a6a6a" stroke-width="0.8"/>
<circle cx="155.20" cy="560.70" r="1.1" fill="#fff" stroke="#6a6a6a" stroke-width="0.8"/>
<circle cx="158.56" cy="560.70" r="1.1" fill="#fff" stroke="#6a6a6a" stroke-width="0.8"/>
<circle cx="161.92" cy="560.70" r="1.1" fill="#fff" stroke="#6a6a6a" stroke-width="0.8"/>
<circle cx="165.28" cy="560.70" r="1.1" fill="#fff" stroke="#6a6a6a" stroke-width="0.8"/>
<circle cx="168.64" cy="560.70" r="1.1" fill="#fff" stroke="#6a6a6a" stroke-width="0.8"/>
<circle cx="172.00" cy="560.70" r="1.1" fill="#fff" stroke="#6a6a6a" stroke-width="0.8"/>
<circle cx="175.36" cy="560.70" r="1.1" fill="#fff" stroke="#6a6a6a" stroke-width="0.8"/>
<circle cx="178.72" cy="560.70" r="1.1" fill="#fff" stroke="#6a6a6a" stroke-width="0.8"/>
<circle cx="182.08" cy="560.70" r="1.1" fill="#fff" stroke="#6a6a6a" stroke-width="0.8"/>
<circle cx="185.44" cy="560.70" r="1.1" fill="#fff" stroke="#6a6a6a" stroke-width="0.8"/>
<circle cx="188.80" cy="560.70" r="1.1" fill="#fff" stroke="#6a6a6a" stroke-width="0.8"/>
<circle cx="192.16" cy="560.70" r="1.1" fill="#fff" stroke="#6a6a6a" stroke-width="0.8"/>
<circle cx="195.52" cy="560.70" r="1.1" fill="#fff" stroke="#6a6a6a" stroke-width="0.8"/>
<circle cx="198.88" cy="560.70" r="1.1" fill="#fff" stroke="#6a6a6a" stroke-width="0.8"/>
<circle cx="202.24" cy="560.70" r="1.1" fill="#fff" stroke="#6a6a6a" stroke-width="0.8"/>
<circle cx="205.60" cy="560.70" r="1.1" fill="#fff" stroke="#6a6a6a" stroke-width="0.8"/>
<circle cx="208.96" cy="560.70" r="1.1" fill="#fff" stroke="#6a6a6a" stroke-width="0.8"/>
<circle cx="212.32" cy="560.70" r="1.1" fill="#fff" stroke="#6a6a6a" stroke-width="0.8"/>
<circle cx="215.68" cy="560.70" r="1.1" fill="#fff" stroke="#6a6a6a" stroke-width="0.8"/>
<circle cx="219.04" cy="560.70" r="1.1" fill="#fff" stroke="#6a6a6a" stroke-width="0.8"/>
<circle cx="222.40" cy="560.70" r="1.1" fill="#fff" stroke="#6a6a6a" stroke-width="0.8"/>
<circle cx="104.80" cy="563.85" r="1.1" fill="#fff" stroke="#6a6a6a" stroke-width="0.8"/>
<circle cx="108.16" cy="563.85" r="1.1" fill="#fff" stroke="#6a6a6a" stroke-width="0.8"/>
<circle cx="111.52" cy="563.85" r="1.1" fill="#fff" stroke="#6a6a6a" stroke-width="0.8"/>
<circle cx="114.88" cy="563.85" r="1.1" fill="#fff" stroke="#6a6a6a" stroke-width="0.8"/>
<circle cx="118.24" cy="563.85" r="1.1" fill="#fff" stroke="#6a6a6a" stroke-width="0.8"/>
<circle cx="121.60" cy="563.85" r="1.1" fill="#fff" stroke="#6a6a6a" stroke-width="0.8"/>
<circle cx="124.96" cy="563.85" r="1.1" fill="#fff" stroke="#6a6a6a" stroke-width="0.8"/>
<circle cx="128.32" cy="563.85" r="1.1" fill="#fff" stroke="#6a6a6a" stroke-width="0.8"/>
<circle cx="131.68" cy="563.85" r="1.1" fill="#fff" stroke="#6a6a6a" stroke-width="0.8"/>
<circle cx="135.04" cy="563.85" r="1.1" fill="#fff" stroke="#6a6a6a" stroke-width="0.8"/>
<circle cx="138.40" cy="563.85" r="1.1" fill="#fff" stroke="#6a6a6a" stroke-width="0.8"/>
<circle cx="141.76" cy="563.85" r="1.1" fill="#fff" stroke="#6a6a6a" stroke-width="0.8"/>
<circle cx="145.12" cy="563.85" r="1.1" fill="#fff" stroke="#6a6a6a" stroke-width="0.8"/>
<circle cx="148.48" cy="563.85" r="1.1" fill="#fff" stroke="#6a6a6a" stroke-width="0.8"/>
<circle cx="151.84" cy="563.85" r="1.1" fill="#fff" stroke="#6a6a6a" stroke-width="0.8"/>
<circle cx="155.20" cy="563.85" r="1.1" fill="#fff" stroke="#6a6a6a" stroke-width="0.8"/>
<circle cx="158.56" cy="563.85" r="1.1" fill="#fff" stroke="#6a6a6a" stroke-width="0.8"/>
<circle cx="161.92" cy="563.85" r="1.1" fill="#fff" stroke="#6a6a6a" stroke-width="0.8"/>
<circle cx="165.28" cy="563.85" r="1.1" fill="#fff" stroke="#6a6a6a" stroke-width="0.8"/>
<circle cx="168.64" cy="563.85" r="1.1" fill="#fff" stroke="#6a6a6a" stroke-width="0.8"/>
<circle cx="172.00" cy="563.85" r="1.1" fill="#fff" stroke="#6a6a6a" stroke-width="0.8"/>
<circle cx="175.36" cy="563.85" r="1.1" fill="#fff" stroke="#6a6a6a" stroke-width="0.8"/>
<circle cx="178.72" cy="563.85" r="1.1" fill="#fff" stroke="#6a6a6a" stroke-width="0.8"/>
<circle cx="182.08" cy="563.85" r="1.1" fill="#fff" stroke="#6a6a6a" stroke-width="0.8"/>
<circle cx="185.44" cy="563.85" r="1.1" fill="#fff" stroke="#6a6a6a" stroke-width="0.8"/>
<circle cx="188.80" cy="563.85" r="1.1" fill="#fff" stroke="#6a6a6a" stroke-width="0.8"/>
<circle cx="192.16" cy="563.85" r="1.1" fill="#fff" stroke="#6a6a6a" stroke-width="0.8"/>
<circle cx="195.52" cy="563.85" r="1.1" fill="#fff" stroke="#6a6a6a" stroke-width="0.8"/>
<circle cx="198.88" cy="563.85" r="1.1" fill="#fff" stroke="#6a6a6a" stroke-width="0.8"/>
<circle cx="202.24" cy="563.85" r="1.1" fill="#fff" stroke="#6a6a6a" stroke-width="0.8"/>
<circle cx="205.60" cy="563.85" r="1.1" fill="#fff" stroke="#6a6a6a" stroke-width="0.8"/>
<circle cx="208.96" cy="563.85" r="1.1" fill="#fff" stroke="#6a6a6a" stroke-width="0.8"/>
<circle cx="212.32" cy="563.85" r="1.1" fill="#fff" stroke="#6a6a6a" stroke-width="0.8"/>
<circle cx="215.68" cy="563.85" r="1.1" fill="#fff" stroke="#6a6a6a" stroke-width="0.8"/>
<circle cx="219.04" cy="563.85" r="1.1" fill="#fff" stroke="#6a6a6a" stroke-width="0.8"/>
<circle cx="222.40" cy="563.85" r="1.1" fill="#fff" stroke="#6a6a6a" stroke-width="0.8"/>
<circle cx="104.80" cy="567.00" r="1.1" fill="#fff" stroke="#6a6a6a" stroke-width="0.8"/>
<circle cx="108.16" cy="567.00" r="1.1" fill="#fff" stroke="#6a6a6a" stroke-width="0.8"/>
<circle cx="111.52" cy="567.00" r="1.1" fill="#fff" stroke="#6a6a6a" stroke-width="0.8"/>
<circle cx="114.88" cy="567.00" r="1.1" fill="#fff" stroke="#6a6a6a" stroke-width="0.8"/>
<circle cx="118.24" cy="567.00" r="1.1" fill="#fff" stroke="#6a6a6a" stroke-width="0.8"/>
<circle cx="121.60" cy="567.00" r="1.1" fill="#fff" stroke="#6a6a6a" stroke-width="0.8"/>
<circle cx="124.96" cy="567.00" r="1.1" fill="#fff" stroke="#6a6a6a" stroke-width="0.8"/>
<circle cx="128.32" cy="567.00" r="1.1" fill="#fff" stroke="#6a6a6a" stroke-width="0.8"/>
<circle cx="131.68" cy="567.00" r="1.1" fill="#fff" stroke="#6a6a6a" stroke-width="0.8"/>
<circle cx="135.04" cy="567.00" r="1.1" fill="#fff" stroke="#6a6a6a" stroke-width="0.8"/>
<circle cx="138.40" cy="567.00" r="1.1" fill="#fff" stroke="#6a6a6a" stroke-width="0.8"/>
<circle cx="141.76" cy="567.00" r="1.1" fill="#fff" stroke="#6a6a6a" stroke-width="0.8"/>
<circle cx="145.12" cy="567.00" r="1.1" fill="#fff" stroke="#6a6a6a" stroke-width="0.8"/>
<circle cx="148.48" cy="567.00" r="1.1" fill="#fff" stroke="#6a6a6a" stroke-width="0.8"/>
<circle cx="151.84" cy="567.00" r="1.1" fill="#fff" stroke="#6a6a6a" stroke-width="0.8"/>
<circle cx="155.20" cy="567.00" r="1.1" fill="#fff" stroke="#6a6a6a" stroke-width="0.8"/>
<circle cx="158.56" cy="567.00" r="1.1" fill="#fff" stroke="#6a6a6a" stroke-width="0.8"/>
<circle cx="161.92" cy="567.00" r="1.1" fill="#fff" stroke="#6a6a6a" stroke-width="0.8"/>
<circle cx="165.28" cy="567.00" r="1.1" fill="#fff" stroke="#6a6a6a" stroke-width="0.8"/>
<circle cx="168.64" cy="567.00" r="1.1" fill="#fff" stroke="#6a6a6a" stroke-width="0.8"/>
<circle cx="172.00" cy="567.00" r="1.1" fill="#fff" stroke="#6a6a6a" stroke-width="0.8"/>
<circle cx="175.36" cy="567.00" r="1.1" fill="#fff" stroke="#6a6a6a" stroke-width="0.8"/>
<circle cx="178.72" cy="567.00" r="1.1" fill="#fff" stroke="#6a6a6a" stroke-width="0.8"/>
<circle cx="182.08" cy="567.00" r="1.1" fill="#fff" stroke="#6a6a6a" stroke-width="0.8"/>
<circle cx="185.44" cy="567.00" r="1.1" fill="#fff" stroke="#6a6a6a" stroke-width="0.8"/>
<circle cx="188.80" cy="567.00" r="1.1" fill="#fff" stroke="#6a6a6a" stroke-width="0.8"/>
<circle cx="192.16" cy="567.00" r="1.1" fill="#fff" stroke="#6a6a6a" stroke-width="0.8"/>
<circle cx="195.52" cy="567.00" r="1.1" fill="#fff" stroke="#6a6a6a" stroke-width="0.8"/>
<circle cx="198.88" cy="567.00" r="1.1" fill="#fff" stroke="#6a6a6a" stroke-width="0.8"/>
<circle cx="202.24" cy="567.00" r="1.1" fill="#fff" stroke="#6a6a6a" stroke-width="0.8"/>
<circle cx="205.60" cy="567.00" r="1.1" fill="#fff" stroke="#6a6a6a" stroke-width="0.8"/>
<circle cx="208.96" cy="567.00" r="1.1" fill="#fff" stroke="#6a6a6a" stroke-width="0.8"/>
<circle cx="212.32" cy="567.00" r="1.1" fill="#fff" stroke="#6a6a6a" stroke-width="0.8"/>
<circle cx="215.68" cy="567.00" r="1.1" fill="#fff" stroke="#6a6a6a" stroke-width="0.8"/>
<circle cx="219.04" cy="567.00" r="1.1" fill="#fff" stroke="#6a6a6a" stroke-width="0.8"/>
<circle cx="222.40" cy="567.00" r="1.1" fill="#fff" stroke="#6a6a6a" stroke-width="0.8"/>
<rect x="102.3" y="580.2" width="123.1" height="17.30" fill="#fff" stroke="#4a4a4a" stroke-width="0.9"/>
<circle cx="104.80" cy="582.80" r="1.6" fill="#000"/>
<circle cx="108.16" cy="582.80" r="1.6" fill="#000"/>
<circle cx="111.52" cy="582.80" r="1.6" fill="#000"/>
<circle cx="114.88" cy="582.80" r="1.6" fill="#000"/>
<circle cx="118.24" cy="582.80" r="1.6" fill="#000"/>
<circle cx="121.60" cy="582.80" r="1.6" fill="#000"/>
<circle cx="124.96" cy="582.80" r="1.6" fill="#000"/>
<circle cx="128.32" cy="582.80" r="1.6" fill="#000"/>
<circle cx="131.68" cy="582.80" r="1.6" fill="#000"/>
<circle cx="135.04" cy="582.80" r="1.6" fill="#000"/>
<circle cx="138.40" cy="582.80" r="1.6" fill="#000"/>
<circle cx="141.76" cy="582.80" r="1.6" fill="#000"/>
<circle cx="145.12" cy="582.80" r="1.6" fill="#000"/>
<circle cx="148.48" cy="582.80" r="1.6" fill="#000"/>
<circle cx="151.84" cy="582.80" r="1.6" fill="#000"/>
<circle cx="155.20" cy="582.80" r="1.6" fill="#000"/>
<circle cx="158.56" cy="582.80" r="1.6" fill="#000"/>
<circle cx="161.92" cy="582.80" r="1.6" fill="#000"/>
<circle cx="165.28" cy="582.80" r="1.6" fill="#000"/>
<circle cx="168.64" cy="582.80" r="1.6" fill="#000"/>
<circle cx="172.00" cy="582.80" r="1.6" fill="#000"/>
<circle cx="175.36" cy="582.80" r="1.6" fill="#000"/>
<circle cx="178.72" cy="582.80" r="1.6" fill="#000"/>
<circle cx="182.08" cy="582.80" r="1.6" fill="#000"/>
<circle cx="185.44" cy="582.80" r="1.6" fill="#000"/>
<circle cx="188.80" cy="582.80" r="1.6" fill="#000"/>
<circle cx="192.16" cy="582.80" r="1.6" fill="#000"/>
<circle cx="195.52" cy="582.80" r="1.6" fill="#000"/>
<circle cx="198.88" cy="582.80" r="1.6" fill="#000"/>
<circle cx="202.24" cy="582.80" r="1.6" fill="#000"/>
<circle cx="205.60" cy="582.80" r="1.6" fill="#000"/>
<circle cx="208.96" cy="582.80" r="1.6" fill="#000"/>
<circle cx="212.32" cy="582.80" r="1.6" fill="#000"/>
<circle cx="215.68" cy="582.80" r="1.6" fill="#000"/>
<circle cx="219.04" cy="582.80" r="1.6" fill="#000"/>
<circle cx="222.40" cy="582.80" r="1.6" fill="#000"/>
<circle cx="104.80" cy="586.83" r="1.6" fill="#000"/>
<circle cx="108.16" cy="586.83" r="1.6" fill="#000"/>
<circle cx="111.52" cy="586.83" r="1.6" fill="#000"/>
<circle cx="114.88" cy="586.83" r="1.6" fill="#000"/>
<circle cx="118.24" cy="586.83" r="1.6" fill="#000"/>
<circle cx="121.60" cy="586.83" r="1.6" fill="#000"/>
<circle cx="124.96" cy="586.83" r="1.6" fill="#000"/>
<circle cx="128.32" cy="586.83" r="1.6" fill="#000"/>
<circle cx="131.68" cy="586.83" r="1.6" fill="#000"/>
<circle cx="135.04" cy="586.83" r="1.6" fill="#000"/>
<circle cx="138.40" cy="586.83" r="1.6" fill="#000"/>
<circle cx="141.76" cy="586.83" r="1.6" fill="#000"/>
<circle cx="145.12" cy="586.83" r="1.6" fill="#000"/>
<circle cx="148.48" cy="586.83" r="1.6" fill="#000"/>
<circle cx="151.84" cy="586.83" r="1.6" fill="#000"/>
<circle cx="155.20" cy="586.83" r="1.6" fill="#000"/>
<circle cx="158.56" cy="586.83" r="1.6" fill="#000"/>
<circle cx="161.92" cy="586.83" r="1.6" fill="#000"/>
<circle cx="165.28" cy="586.83" r="1.6" fill="#000"/>
<circle cx="168.64" cy="586.83" r="1.6" fill="#000"/>
<circle cx="172.00" cy="586.83" r="1.6" fill="#000"/>
<circle cx="175.36" cy="586.83" r="1.6" fill="#000"/>
<circle cx="178.72" cy="586.83" r="1.6" fill="#000"/>
<circle cx="182.08" cy="586.83" r="1.6" fill="#000"/>
<circle cx="185.44" cy="586.83" r="1.6" fill="#000"/>
<circle cx="188.80" cy="586.83" r="1.6" fill="#000"/>
<circle cx="192.16" cy="586.83" r="1.6" fill="#000"/>
<circle cx="195.52" cy="586.83" r="1.6" fill="#000"/>
<circle cx="198.88" cy="586.83" r="1.6" fill="#000"/>
<circle cx="202.24" cy="586.83" r="1.6" fill="#000"/>
<circle cx="205.60" cy="586.83" r="1.6" fill="#000"/>
<circle cx="208.96" cy="586.83" r="1.6" fill="#000"/>
<circle cx="212.32" cy="586.83" r="1.6" fill="#000"/>
<circle cx="215.68" cy="586.83" r="1.6" fill="#000"/>
<circle cx="219.04" cy="586.83" r="1.6" fill="#000"/>
<circle cx="222.40" cy="586.83" r="1.6" fill="#000"/>
<circle cx="104.80" cy="590.87" r="1.6" fill="#000"/>
<circle cx="108.16" cy="590.87" r="1.6" fill="#000"/>
<circle cx="111.52" cy="590.87" r="1.6" fill="#000"/>
<circle cx="114.88" cy="590.87" r="1.6" fill="#000"/>
<circle cx="118.24" cy="590.87" r="1.6" fill="#000"/>
<circle cx="121.60" cy="590.87" r="1.6" fill="#000"/>
<circle cx="124.96" cy="590.87" r="1.6" fill="#000"/>
<circle cx="128.32" cy="590.87" r="1.6" fill="#000"/>
<circle cx="131.68" cy="590.87" r="1.6" fill="#000"/>
<circle cx="135.04" cy="590.87" r="1.6" fill="#000"/>
<circle cx="138.40" cy="590.87" r="1.6" fill="#000"/>
<circle cx="141.76" cy="590.87" r="1.6" fill="#000"/>
<circle cx="145.12" cy="590.87" r="1.6" fill="#000"/>
<circle cx="148.48" cy="590.87" r="1.6" fill="#000"/>
<circle cx="151.84" cy="590.87" r="1.6" fill="#000"/>
<circle cx="155.20" cy="590.87" r="1.6" fill="#000"/>
<circle cx="158.56" cy="590.87" r="1.6" fill="#000"/>
<circle cx="161.92" cy="590.87" r="1.6" fill="#000"/>
<circle cx="165.28" cy="590.87" r="1.6" fill="#000"/>
<circle cx="168.64" cy="590.87" r="1.6" fill="#000"/>
<circle cx="172.00" cy="590.87" r="1.6" fill="#000"/>
<circle cx="175.36" cy="590.87" r="1.6" fill="#000"/>
<circle cx="178.72" cy="590.87" r="1.6" fill="#000"/>
<circle cx="182.08" cy="590.87" r="1.6" fill="#000"/>
<circle cx="185.44" cy="590.87" r="1.6" fill="#000"/>
<circle cx="188.80" cy="590.87" r="1.6" fill="#000"/>
<circle cx="192.16" cy="590.87" r="1.6" fill="#000"/>
<circle cx="195.52" cy="590.87" r="1.6" fill="#000"/>
<circle cx="198.88" cy="590.87" r="1.6" fill="#000"/>
<circle cx="202.24" cy="590.87" r="1.6" fill="#000"/>
<circle cx="205.60" cy="590.87" r="1.6" fill="#000"/>
<circle cx="208.96" cy="590.87" r="1.6" fill="#000"/>
<circle cx="212.32" cy="590.87" r="1.6" fill="#000"/>
<circle cx="215.68" cy="590.87" r="1.6" fill="#000"/>
<circle cx="219.04" cy="590.87" r="1.6" fill="#000"/>
<circle cx="222.40" cy="590.87" r="1.6" fill="#000"/>
<circle cx="104.80" cy="594.90" r="1.6" fill="#000"/>
<circle cx="108.16" cy="594.90" r="1.6" fill="#000"/>
<circle cx="111.52" cy="594.90" r="1.6" fill="#000"/>
<circle cx="114.88" cy="594.90" r="1.6" fill="#000"/>
<circle cx="118.24" cy="594.90" r="1.6" fill="#000"/>
<circle cx="121.60" cy="594.90" r="1.6" fill="#000"/>
<circle cx="124.96" cy="594.90" r="1.6" fill="#000"/>
<circle cx="128.32" cy="594.90" r="1.6" fill="#000"/>
<circle cx="131.68" cy="594.90" r="1.6" fill="#000"/>
<circle cx="135.04" cy="594.90" r="1.6" fill="#000"/>
<circle cx="138.40" cy="594.90" r="1.6" fill="#000"/>
<circle cx="141.76" cy="594.90" r="1.6" fill="#000"/>
<circle cx="145.12" cy="594.90" r="1.6" fill="#000"/>
<circle cx="148.48" cy="594.90" r="1.6" fill="#000"/>
<circle cx="151.84" cy="594.90" r="1.6" fill="#000"/>
<circle cx="155.20" cy="594.90" r="1.6" fill="#000"/>
<circle cx="158.56" cy="594.90" r="1.6" fill="#000"/>
<circle cx="161.92" cy="594.90" r="1.6" fill="#000"/>
<circle cx="165.28" cy="594.90" r="1.6" fill="#000"/>
<circle cx="168.64" cy="594.90" r="1.6" fill="#000"/>
<circle cx="172.00" cy="594.90" r="1.6" fill="#000"/>
<circle cx="175.36" cy="594.90" r="1.6" fill="#000"/>
<circle cx="178.72" cy="594.90" r="1.6" fill="#000"/>
<circle cx="182.08" cy="594.90" r="1.6" fill="#000"/>
<circle cx="185.44" cy="594.90" r="1.6" fill="#000"/>
<circle cx="188.80" cy="594.90" r="1.6" fill="#000"/>
<circle cx="192.16" cy="594.90" r="1.6" fill="#000"/>
<circle cx="195.52" cy="594.90" r="1.6" fill="#000"/>
<circle cx="198.88" cy="594.90" r="1.6" fill="#000"/>
<circle cx="202.24" cy="594.90" r="1.6" fill="#000"/>
<circle cx="205.60" cy="594.90" r="1.6" fill="#000"/>
<circle cx="208.96" cy="594.90" r="1.6" fill="#000"/>
<circle cx="212.32" cy="594.90" r="1.6" fill="#000"/>
<circle cx="215.68" cy="594.90" r="1.6" fill="#000"/>
<circle cx="219.04" cy="594.90" r="1.6" fill="#000"/>
<circle cx="222.40" cy="594.90" r="1.6" fill="#000"/>
<rect x="102.3" y="608.0" width="123.1" height="11.90" fill="#fff" stroke="#4a4a4a" stroke-width="0.9"/>
<circle cx="104.80" cy="610.60" r="1.6" fill="#000"/>
<circle cx="108.16" cy="610.60" r="1.6" fill="#000"/>
<circle cx="111.52" cy="610.60" r="1.6" fill="#000"/>
<circle cx="114.88" cy="610.60" r="1.6" fill="#000"/>
<circle cx="118.24" cy="610.60" r="1.6" fill="#000"/>
<circle cx="121.60" cy="610.60" r="1.6" fill="#000"/>
<circle cx="124.96" cy="610.60" r="1.6" fill="#000"/>
<circle cx="128.32" cy="610.60" r="1.1" fill="#fff" stroke="#6a6a6a" stroke-width="0.8"/>
<circle cx="131.68" cy="610.60" r="1.6" fill="#000"/>
<circle cx="135.04" cy="610.60" r="1.6" fill="#000"/>
<circle cx="138.40" cy="610.60" r="1.1" fill="#fff" stroke="#6a6a6a" stroke-width="0.8"/>
<circle cx="141.76" cy="610.60" r="1.1" fill="#fff" stroke="#6a6a6a" stroke-width="0.8"/>
<circle cx="145.12" cy="610.60" r="1.6" fill="#000"/>
<circle cx="148.48" cy="610.60" r="1.6" fill="#000"/>
<circle cx="151.84" cy="610.60" r="1.6" fill="#000"/>
<circle cx="155.20" cy="610.60" r="1.6" fill="#000"/>
<circle cx="158.56" cy="610.60" r="1.6" fill="#000"/>
<circle cx="161.92" cy="610.60" r="1.1" fill="#fff" stroke="#6a6a6a" stroke-width="0.8"/>
<circle cx="165.28" cy="610.60" r="1.1" fill="#fff" stroke="#6a6a6a" stroke-width="0.8"/>
<circle cx="168.64" cy="610.60" r="1.1" fill="#fff" stroke="#6a6a6a" stroke-width="0.8"/>
<circle cx="172.00" cy="610.60" r="1.6" fill="#000"/>
<circle cx="175.36" cy="610.60" r="1.6" fill="#000"/>
<circle cx="178.72" cy="610.60" r="1.1" fill="#fff" stroke="#6a6a6a" stroke-width="0.8"/>
<circle cx="182.08" cy="610.60" r="1.1" fill="#fff" stroke="#6a6a6a" stroke-width="0.8"/>
<circle cx="185.44" cy="610.60" r="1.1" fill="#fff" stroke="#6a6a6a" stroke-width="0.8"/>
<circle cx="188.80" cy="610.60" r="1.6" fill="#000"/>
<circle cx="192.16" cy="610.60" r="1.6" fill="#000"/>
<circle cx="195.52" cy="610.60" r="1.6" fill="#000"/>
<circle cx="198.88" cy="610.60" r="1.6" fill="#000"/>
<circle cx="202.24" cy="610.60" r="1.6" fill="#000"/>
<circle cx="205.60" cy="610.60" r="1.6" fill="#000"/>
<circle cx="208.96" cy="610.60" r="1.1" fill="#fff" stroke="#6a6a6a" stroke-width="0.8"/>
<circle cx="212.32" cy="610.60" r="1.1" fill="#fff" stroke="#6a6a6a" stroke-width="0.8"/>
<circle cx="215.68" cy="610.60" r="1.6" fill="#000"/>
<circle cx="219.04" cy="610.60" r="1.1" fill="#fff" stroke="#6a6a6a" stroke-width="0.8"/>
<circle cx="222.40" cy="610.60" r="1.6" fill="#000"/>
<circle cx="104.80" cy="613.95" r="1.1" fill="#fff" stroke="#6a6a6a" stroke-width="0.8"/>
<circle cx="108.16" cy="613.95" r="1.6" fill="#000"/>
<circle cx="111.52" cy="613.95" r="1.1" fill="#fff" stroke="#6a6a6a" stroke-width="0.8"/>
<circle cx="114.88" cy="613.95" r="1.1" fill="#fff" stroke="#6a6a6a" stroke-width="0.8"/>
<circle cx="118.24" cy="613.95" r="1.1" fill="#fff" stroke="#6a6a6a" stroke-width="0.8"/>
<circle cx="121.60" cy="613.95" r="1.6" fill="#000"/>
<circle cx="124.96" cy="613.95" r="1.1" fill="#fff" stroke="#6a6a6a" stroke-width="0.8"/>
<circle cx="128.32" cy="613.95" r="1.6" fill="#000"/>
<circle cx="131.68" cy="613.95" r="1.1" fill="#fff" stroke="#6a6a6a" stroke-width="0.8"/>
<circle cx="135.04" cy="613.95" r="1.6" fill="#000"/>
<circle cx="138.40" cy="613.95" r="1.1" fill="#fff" stroke="#6a6a6a" stroke-width="0.8"/>
<circle cx="141.76" cy="613.95" r="1.1" fill="#fff" stroke="#6a6a6a" stroke-width="0.8"/>
<circle cx="145.12" cy="613.95" r="1.1" fill="#fff" stroke="#6a6a6a" stroke-width="0.8"/>
<circle cx="148.48" cy="613.95" r="1.1" fill="#fff" stroke="#6a6a6a" stroke-width="0.8"/>
<circle cx="151.84" cy="613.95" r="1.6" fill="#000"/>
<circle cx="155.20" cy="613.95" r="1.1" fill="#fff" stroke="#6a6a6a" stroke-width="0.8"/>
<circle cx="158.56" cy="613.95" r="1.1" fill="#fff" stroke="#6a6a6a" stroke-width="0.8"/>
<circle cx="161.92" cy="613.95" r="1.1" fill="#fff" stroke="#6a6a6a" stroke-width="0.8"/>
<circle cx="165.28" cy="613.95" r="1.1" fill="#fff" stroke="#6a6a6a" stroke-width="0.8"/>
<circle cx="168.64" cy="613.95" r="1.1" fill="#fff" stroke="#6a6a6a" stroke-width="0.8"/>
<circle cx="172.00" cy="613.95" r="1.6" fill="#000"/>
<circle cx="175.36" cy="613.95" r="1.1" fill="#fff" stroke="#6a6a6a" stroke-width="0.8"/>
<circle cx="178.72" cy="613.95" r="1.6" fill="#000"/>
<circle cx="182.08" cy="613.95" r="1.6" fill="#000"/>
<circle cx="185.44" cy="613.95" r="1.1" fill="#fff" stroke="#6a6a6a" stroke-width="0.8"/>
<circle cx="188.80" cy="613.95" r="1.1" fill="#fff" stroke="#6a6a6a" stroke-width="0.8"/>
<circle cx="192.16" cy="613.95" r="1.1" fill="#fff" stroke="#6a6a6a" stroke-width="0.8"/>
<circle cx="195.52" cy="613.95" r="1.6" fill="#000"/>
<circle cx="198.88" cy="613.95" r="1.1" fill="#fff" stroke="#6a6a6a" stroke-width="0.8"/>
<circle cx="202.24" cy="613.95" r="1.1" fill="#fff" stroke="#6a6a6a" stroke-width="0.8"/>
<circle cx="205.60" cy="613.95" r="1.1" fill="#fff" stroke="#6a6a6a" stroke-width="0.8"/>
<circle cx="208.96" cy="613.95" r="1.6" fill="#000"/>
<circle cx="212.32" cy="613.95" r="1.6" fill="#000"/>
<circle cx="215.68" cy="613.95" r="1.1" fill="#fff" stroke="#6a6a6a" stroke-width="0.8"/>
<circle cx="219.04" cy="613.95" r="1.1" fill="#fff" stroke="#6a6a6a" stroke-width="0.8"/>
<circle cx="222.40" cy="613.95" r="1.6" fill="#000"/>
<circle cx="104.80" cy="617.30" r="1.1" fill="#fff" stroke="#6a6a6a" stroke-width="0.8"/>
<circle cx="108.16" cy="617.30" r="1.1" fill="#fff" stroke="#6a6a6a" stroke-width="0.8"/>
<circle cx="111.52" cy="617.30" r="1.1" fill="#fff" stroke="#6a6a6a" stroke-width="0.8"/>
<circle cx="114.88" cy="617.30" r="1.1" fill="#fff" stroke="#6a6a6a" stroke-width="0.8"/>
<circle cx="118.24" cy="617.30" r="1.1" fill="#fff" stroke="#6a6a6a" stroke-width="0.8"/>
<circle cx="121.60" cy="617.30" r="1.1" fill="#fff" stroke="#6a6a6a" stroke-width="0.8"/>
<circle cx="124.96" cy="617.30" r="1.1" fill="#fff" stroke="#6a6a6a" stroke-width="0.8"/>
<circle cx="128.32" cy="617.30" r="1.1" fill="#fff" stroke="#6a6a6a" stroke-width="0.8"/>
<circle cx="131.68" cy="617.30" r="1.1" fill="#fff" stroke="#6a6a6a" stroke-width="0.8"/>
<circle cx="135.04" cy="617.30" r="1.1" fill="#fff" stroke="#6a6a6a" stroke-width="0.8"/>
<circle cx="138.40" cy="617.30" r="1.1" fill="#fff" stroke="#6a6a6a" stroke-width="0.8"/>
<circle cx="141.76" cy="617.30" r="1.1" fill="#fff" stroke="#6a6a6a" stroke-width="0.8"/>
<circle cx="145.12" cy="617.30" r="1.1" fill="#fff" stroke="#6a6a6a" stroke-width="0.8"/>
<circle cx="148.48" cy="617.30" r="1.1" fill="#fff" stroke="#6a6a6a" stroke-width="0.8"/>
<circle cx="151.84" cy="617.30" r="1.1" fill="#fff" stroke="#6a6a6a" stroke-width="0.8"/>
<circle cx="155.20" cy="617.30" r="1.1" fill="#fff" stroke="#6a6a6a" stroke-width="0.8"/>
<circle cx="158.56" cy="617.30" r="1.1" fill="#fff" stroke="#6a6a6a" stroke-width="0.8"/>
<circle cx="161.92" cy="617.30" r="1.1" fill="#fff" stroke="#6a6a6a" stroke-width="0.8"/>
<circle cx="165.28" cy="617.30" r="1.1" fill="#fff" stroke="#6a6a6a" stroke-width="0.8"/>
<circle cx="168.64" cy="617.30" r="1.1" fill="#fff" stroke="#6a6a6a" stroke-width="0.8"/>
<circle cx="172.00" cy="617.30" r="1.1" fill="#fff" stroke="#6a6a6a" stroke-width="0.8"/>
<circle cx="175.36" cy="617.30" r="1.1" fill="#fff" stroke="#6a6a6a" stroke-width="0.8"/>
<circle cx="178.72" cy="617.30" r="1.1" fill="#fff" stroke="#6a6a6a" stroke-width="0.8"/>
<circle cx="182.08" cy="617.30" r="1.1" fill="#fff" stroke="#6a6a6a" stroke-width="0.8"/>
<circle cx="185.44" cy="617.30" r="1.1" fill="#fff" stroke="#6a6a6a" stroke-width="0.8"/>
<circle cx="188.80" cy="617.30" r="1.1" fill="#fff" stroke="#6a6a6a" stroke-width="0.8"/>
<circle cx="192.16" cy="617.30" r="1.1" fill="#fff" stroke="#6a6a6a" stroke-width="0.8"/>
<circle cx="195.52" cy="617.30" r="1.1" fill="#fff" stroke="#6a6a6a" stroke-width="0.8"/>
<circle cx="198.88" cy="617.30" r="1.1" fill="#fff" stroke="#6a6a6a" stroke-width="0.8"/>
<circle cx="202.24" cy="617.30" r="1.1" fill="#fff" stroke="#6a6a6a" stroke-width="0.8"/>
<circle cx="205.60" cy="617.30" r="1.1" fill="#fff" stroke="#6a6a6a" stroke-width="0.8"/>
<circle cx="208.96" cy="617.30" r="1.1" fill="#fff" stroke="#6a6a6a" stroke-width="0.8"/>
<circle cx="212.32" cy="617.30" r="1.1" fill="#fff" stroke="#6a6a6a" stroke-width="0.8"/>
<circle cx="215.68" cy="617.30" r="1.1" fill="#fff" stroke="#6a6a6a" stroke-width="0.8"/>
<circle cx="219.04" cy="617.30" r="1.1" fill="#fff" stroke="#6a6a6a" stroke-width="0.8"/>
<circle cx="222.40" cy="617.30" r="1.1" fill="#fff" stroke="#6a6a6a" stroke-width="0.8"/>
<rect x="102.3" y="635.0" width="123.1" height="8.50" fill="#fff" stroke="#4a4a4a" stroke-width="0.9"/>
<circle cx="104.80" cy="637.30" r="1.6" fill="#000"/>
<circle cx="108.16" cy="637.30" r="1.6" fill="#000"/>
<circle cx="111.52" cy="637.30" r="1.6" fill="#000"/>
<circle cx="114.88" cy="637.30" r="1.6" fill="#000"/>
<circle cx="118.24" cy="637.30" r="1.6" fill="#000"/>
<circle cx="121.60" cy="637.30" r="1.6" fill="#000"/>
<circle cx="124.96" cy="637.30" r="1.6" fill="#000"/>
<circle cx="128.32" cy="637.30" r="1.1" fill="#fff" stroke="#6a6a6a" stroke-width="0.8"/>
<circle cx="131.68" cy="637.30" r="1.6" fill="#000"/>
<circle cx="135.04" cy="637.30" r="1.6" fill="#000"/>
<circle cx="138.40" cy="637.30" r="1.1" fill="#fff" stroke="#6a6a6a" stroke-width="0.8"/>
<circle cx="141.76" cy="637.30" r="1.1" fill="#fff" stroke="#6a6a6a" stroke-width="0.8"/>
<circle cx="145.12" cy="637.30" r="1.6" fill="#000"/>
<circle cx="148.48" cy="637.30" r="1.6" fill="#000"/>
<circle cx="151.84" cy="637.30" r="1.6" fill="#000"/>
<circle cx="155.20" cy="637.30" r="1.6" fill="#000"/>
<circle cx="158.56" cy="637.30" r="1.6" fill="#000"/>
<circle cx="161.92" cy="637.30" r="1.1" fill="#fff" stroke="#6a6a6a" stroke-width="0.8"/>
<circle cx="165.28" cy="637.30" r="1.1" fill="#fff" stroke="#6a6a6a" stroke-width="0.8"/>
<circle cx="168.64" cy="637.30" r="1.1" fill="#fff" stroke="#6a6a6a" stroke-width="0.8"/>
<circle cx="172.00" cy="637.30" r="1.6" fill="#000"/>
<circle cx="175.36" cy="637.30" r="1.6" fill="#000"/>
<circle cx="178.72" cy="637.30" r="1.1" fill="#fff" stroke="#6a6a6a" stroke-width="0.8"/>
<circle cx="182.08" cy="637.30" r="1.6" fill="#000"/>
<circle cx="185.44" cy="637.30" r="1.6" fill="#000"/>
<circle cx="188.80" cy="637.30" r="1.6" fill="#000"/>
<circle cx="192.16" cy="637.30" r="1.1" fill="#fff" stroke="#6a6a6a" stroke-width="0.8"/>
<circle cx="195.52" cy="637.30" r="1.1" fill="#fff" stroke="#6a6a6a" stroke-width="0.8"/>
<circle cx="198.88" cy="637.30" r="1.6" fill="#000"/>
<circle cx="202.24" cy="637.30" r="1.6" fill="#000"/>
<circle cx="205.60" cy="637.30" r="1.6" fill="#000"/>
<circle cx="208.96" cy="637.30" r="1.1" fill="#fff" stroke="#6a6a6a" stroke-width="0.8"/>
<circle cx="212.32" cy="637.30" r="1.1" fill="#fff" stroke="#6a6a6a" stroke-width="0.8"/>
<circle cx="215.68" cy="637.30" r="1.6" fill="#000"/>
<circle cx="219.04" cy="637.30" r="1.1" fill="#fff" stroke="#6a6a6a" stroke-width="0.8"/>
<circle cx="222.40" cy="637.30" r="1.6" fill="#000"/>
<circle cx="104.80" cy="641.20" r="1.6" fill="#000"/>
<circle cx="108.16" cy="641.20" r="1.6" fill="#000"/>
<circle cx="111.52" cy="641.20" r="1.6" fill="#000"/>
<circle cx="114.88" cy="641.20" r="1.6" fill="#000"/>
<circle cx="118.24" cy="641.20" r="1.6" fill="#000"/>
<circle cx="121.60" cy="641.20" r="1.6" fill="#000"/>
<circle cx="124.96" cy="641.20" r="1.6" fill="#000"/>
<circle cx="128.32" cy="641.20" r="1.1" fill="#fff" stroke="#6a6a6a" stroke-width="0.8"/>
<circle cx="131.68" cy="641.20" r="1.6" fill="#000"/>
<circle cx="135.04" cy="641.20" r="1.6" fill="#000"/>
<circle cx="138.40" cy="641.20" r="1.1" fill="#fff" stroke="#6a6a6a" stroke-width="0.8"/>
<circle cx="141.76" cy="641.20" r="1.1" fill="#fff" stroke="#6a6a6a" stroke-width="0.8"/>
<circle cx="145.12" cy="641.20" r="1.6" fill="#000"/>
<circle cx="148.48" cy="641.20" r="1.6" fill="#000"/>
<circle cx="151.84" cy="641.20" r="1.6" fill="#000"/>
<circle cx="155.20" cy="641.20" r="1.6" fill="#000"/>
<circle cx="158.56" cy="641.20" r="1.6" fill="#000"/>
<circle cx="161.92" cy="641.20" r="1.1" fill="#fff" stroke="#6a6a6a" stroke-width="0.8"/>
<circle cx="165.28" cy="641.20" r="1.1" fill="#fff" stroke="#6a6a6a" stroke-width="0.8"/>
<circle cx="168.64" cy="641.20" r="1.1" fill="#fff" stroke="#6a6a6a" stroke-width="0.8"/>
<circle cx="172.00" cy="641.20" r="1.6" fill="#000"/>
<circle cx="175.36" cy="641.20" r="1.6" fill="#000"/>
<circle cx="178.72" cy="641.20" r="1.1" fill="#fff" stroke="#6a6a6a" stroke-width="0.8"/>
<circle cx="182.08" cy="641.20" r="1.6" fill="#000"/>
<circle cx="185.44" cy="641.20" r="1.6" fill="#000"/>
<circle cx="188.80" cy="641.20" r="1.6" fill="#000"/>
<circle cx="192.16" cy="641.20" r="1.1" fill="#fff" stroke="#6a6a6a" stroke-width="0.8"/>
<circle cx="195.52" cy="641.20" r="1.1" fill="#fff" stroke="#6a6a6a" stroke-width="0.8"/>
<circle cx="198.88" cy="641.20" r="1.6" fill="#000"/>
<circle cx="202.24" cy="641.20" r="1.6" fill="#000"/>
<circle cx="205.60" cy="641.20" r="1.1" fill="#fff" stroke="#6a6a6a" stroke-width="0.8"/>
<circle cx="208.96" cy="641.20" r="1.1" fill="#fff" stroke="#6a6a6a" stroke-width="0.8"/>
<circle cx="212.32" cy="641.20" r="1.1" fill="#fff" stroke="#6a6a6a" stroke-width="0.8"/>
<circle cx="215.68" cy="641.20" r="1.6" fill="#000"/>
<circle cx="219.04" cy="641.20" r="1.1" fill="#fff" stroke="#6a6a6a" stroke-width="0.8"/>
<circle cx="222.40" cy="641.20" r="1.6" fill="#000"/>
</svg>
<div id="frame"></div>
</div>
</body></html>
